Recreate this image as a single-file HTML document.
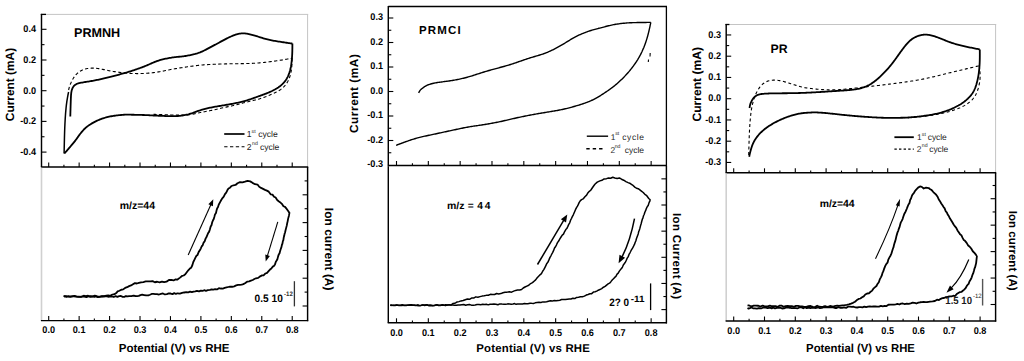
<!DOCTYPE html>
<html><head><meta charset="utf-8"><style>
html,body{margin:0;padding:0;background:#fff;}
svg{display:block;font-family:"Liberation Sans", sans-serif;} text{text-rendering:geometricPrecision;}
</style></head><body>
<svg width="1024" height="361" viewBox="0 0 1024 361" font-family='"Liberation Sans", sans-serif'>
<rect width="1024" height="361" fill="#fff"/>
<line x1="41.50" y1="14.40" x2="308.20" y2="14.40" stroke="#c4c4c4" stroke-width="1" />
<line x1="307.60" y1="14.40" x2="307.60" y2="167.00" stroke="#c4c4c4" stroke-width="1" />
<line x1="41.50" y1="13.90" x2="41.50" y2="167.00" stroke="#000" stroke-width="1.45" />
<line x1="40.90" y1="167.00" x2="308.20" y2="167.00" stroke="#000" stroke-width="1.45" />
<line x1="41.50" y1="167.70" x2="41.50" y2="320.60" stroke="#d0d0d0" stroke-width="1.6" />
<line x1="307.60" y1="167.00" x2="307.60" y2="321.20" stroke="#000" stroke-width="1.45" />
<line x1="40.90" y1="320.60" x2="308.20" y2="320.60" stroke="#000" stroke-width="1.45" />
<line x1="40.80" y1="14.40" x2="46.00" y2="14.40" stroke="#000" stroke-width="1.3" />
<line x1="41.50" y1="29.30" x2="46.50" y2="29.30" stroke="#000" stroke-width="1.1" />
<line x1="41.50" y1="60.00" x2="46.50" y2="60.00" stroke="#000" stroke-width="1.1" />
<line x1="41.50" y1="90.70" x2="46.50" y2="90.70" stroke="#000" stroke-width="1.1" />
<line x1="41.50" y1="121.40" x2="46.50" y2="121.40" stroke="#000" stroke-width="1.1" />
<line x1="41.50" y1="152.10" x2="46.50" y2="152.10" stroke="#000" stroke-width="1.1" />
<line x1="41.50" y1="44.65" x2="44.50" y2="44.65" stroke="#000" stroke-width="1.1" />
<line x1="41.50" y1="75.35" x2="44.50" y2="75.35" stroke="#000" stroke-width="1.1" />
<line x1="41.50" y1="106.05" x2="44.50" y2="106.05" stroke="#000" stroke-width="1.1" />
<line x1="41.50" y1="136.75" x2="44.50" y2="136.75" stroke="#000" stroke-width="1.1" />
<text transform="translate(36.00,32.20) scale(0.93,1)" font-size="9.8" font-weight="bold" text-anchor="end">0.4</text>
<text transform="translate(36.00,62.90) scale(0.93,1)" font-size="9.8" font-weight="bold" text-anchor="end">0.2</text>
<text transform="translate(36.00,93.60) scale(0.93,1)" font-size="9.8" font-weight="bold" text-anchor="end">0.0</text>
<text transform="translate(36.00,124.30) scale(0.93,1)" font-size="9.8" font-weight="bold" text-anchor="end">-0.2</text>
<text transform="translate(36.00,155.00) scale(0.93,1)" font-size="9.8" font-weight="bold" text-anchor="end">-0.4</text>
<line x1="48.70" y1="167.00" x2="48.70" y2="162.50" stroke="#000" stroke-width="1.1" />
<line x1="63.92" y1="167.00" x2="63.92" y2="164.80" stroke="#000" stroke-width="1.1" />
<line x1="79.14" y1="167.00" x2="79.14" y2="162.50" stroke="#000" stroke-width="1.1" />
<line x1="94.36" y1="167.00" x2="94.36" y2="164.80" stroke="#000" stroke-width="1.1" />
<line x1="109.58" y1="167.00" x2="109.58" y2="162.50" stroke="#000" stroke-width="1.1" />
<line x1="124.80" y1="167.00" x2="124.80" y2="164.80" stroke="#000" stroke-width="1.1" />
<line x1="140.02" y1="167.00" x2="140.02" y2="162.50" stroke="#000" stroke-width="1.1" />
<line x1="155.24" y1="167.00" x2="155.24" y2="164.80" stroke="#000" stroke-width="1.1" />
<line x1="170.46" y1="167.00" x2="170.46" y2="162.50" stroke="#000" stroke-width="1.1" />
<line x1="185.68" y1="167.00" x2="185.68" y2="164.80" stroke="#000" stroke-width="1.1" />
<line x1="200.90" y1="167.00" x2="200.90" y2="162.50" stroke="#000" stroke-width="1.1" />
<line x1="216.12" y1="167.00" x2="216.12" y2="164.80" stroke="#000" stroke-width="1.1" />
<line x1="231.34" y1="167.00" x2="231.34" y2="162.50" stroke="#000" stroke-width="1.1" />
<line x1="246.56" y1="167.00" x2="246.56" y2="164.80" stroke="#000" stroke-width="1.1" />
<line x1="261.78" y1="167.00" x2="261.78" y2="162.50" stroke="#000" stroke-width="1.1" />
<line x1="277.00" y1="167.00" x2="277.00" y2="164.80" stroke="#000" stroke-width="1.1" />
<line x1="292.22" y1="167.00" x2="292.22" y2="162.50" stroke="#000" stroke-width="1.1" />
<line x1="48.70" y1="320.60" x2="48.70" y2="316.10" stroke="#000" stroke-width="1.1" />
<line x1="63.92" y1="320.60" x2="63.92" y2="318.40" stroke="#000" stroke-width="1.1" />
<line x1="79.14" y1="320.60" x2="79.14" y2="316.10" stroke="#000" stroke-width="1.1" />
<line x1="94.36" y1="320.60" x2="94.36" y2="318.40" stroke="#000" stroke-width="1.1" />
<line x1="109.58" y1="320.60" x2="109.58" y2="316.10" stroke="#000" stroke-width="1.1" />
<line x1="124.80" y1="320.60" x2="124.80" y2="318.40" stroke="#000" stroke-width="1.1" />
<line x1="140.02" y1="320.60" x2="140.02" y2="316.10" stroke="#000" stroke-width="1.1" />
<line x1="155.24" y1="320.60" x2="155.24" y2="318.40" stroke="#000" stroke-width="1.1" />
<line x1="170.46" y1="320.60" x2="170.46" y2="316.10" stroke="#000" stroke-width="1.1" />
<line x1="185.68" y1="320.60" x2="185.68" y2="318.40" stroke="#000" stroke-width="1.1" />
<line x1="200.90" y1="320.60" x2="200.90" y2="316.10" stroke="#000" stroke-width="1.1" />
<line x1="216.12" y1="320.60" x2="216.12" y2="318.40" stroke="#000" stroke-width="1.1" />
<line x1="231.34" y1="320.60" x2="231.34" y2="316.10" stroke="#000" stroke-width="1.1" />
<line x1="246.56" y1="320.60" x2="246.56" y2="318.40" stroke="#000" stroke-width="1.1" />
<line x1="261.78" y1="320.60" x2="261.78" y2="316.10" stroke="#000" stroke-width="1.1" />
<line x1="277.00" y1="320.60" x2="277.00" y2="318.40" stroke="#000" stroke-width="1.1" />
<line x1="292.22" y1="320.60" x2="292.22" y2="316.10" stroke="#000" stroke-width="1.1" />
<text transform="translate(48.70,332.80) scale(0.93,1)" font-size="9.8" font-weight="bold" text-anchor="middle">0.0</text>
<text transform="translate(79.14,332.80) scale(0.93,1)" font-size="9.8" font-weight="bold" text-anchor="middle">0.1</text>
<text transform="translate(109.58,332.80) scale(0.93,1)" font-size="9.8" font-weight="bold" text-anchor="middle">0.2</text>
<text transform="translate(140.02,332.80) scale(0.93,1)" font-size="9.8" font-weight="bold" text-anchor="middle">0.3</text>
<text transform="translate(170.46,332.80) scale(0.93,1)" font-size="9.8" font-weight="bold" text-anchor="middle">0.4</text>
<text transform="translate(200.90,332.80) scale(0.93,1)" font-size="9.8" font-weight="bold" text-anchor="middle">0.5</text>
<text transform="translate(231.34,332.80) scale(0.93,1)" font-size="9.8" font-weight="bold" text-anchor="middle">0.6</text>
<text transform="translate(261.78,332.80) scale(0.93,1)" font-size="9.8" font-weight="bold" text-anchor="middle">0.7</text>
<text transform="translate(292.22,332.80) scale(0.93,1)" font-size="9.8" font-weight="bold" text-anchor="middle">0.8</text>
<line x1="307.60" y1="306.00" x2="302.60" y2="306.00" stroke="#000" stroke-width="1.1" />
<line x1="307.60" y1="278.20" x2="302.60" y2="278.20" stroke="#000" stroke-width="1.1" />
<line x1="307.60" y1="250.40" x2="302.60" y2="250.40" stroke="#000" stroke-width="1.1" />
<line x1="307.60" y1="222.60" x2="302.60" y2="222.60" stroke="#000" stroke-width="1.1" />
<line x1="307.60" y1="194.80" x2="302.60" y2="194.80" stroke="#000" stroke-width="1.1" />
<line x1="307.60" y1="292.10" x2="304.60" y2="292.10" stroke="#000" stroke-width="1.1" />
<line x1="307.60" y1="264.30" x2="304.60" y2="264.30" stroke="#000" stroke-width="1.1" />
<line x1="307.60" y1="236.50" x2="304.60" y2="236.50" stroke="#000" stroke-width="1.1" />
<line x1="307.60" y1="208.70" x2="304.60" y2="208.70" stroke="#000" stroke-width="1.1" />
<line x1="307.60" y1="180.90" x2="304.60" y2="180.90" stroke="#000" stroke-width="1.1" />
<text x="74.00" y="37.10" font-size="12.6" font-weight="bold" text-anchor="start" >PRMNH</text>
<text transform="translate(14.3,84.5) rotate(-90)" font-size="11.9" font-weight="bold" text-anchor="middle">Current (mA)</text>
<text transform="translate(325.2,249.2) rotate(90)" font-size="12.0" font-weight="bold" text-anchor="middle">Ion current (A)</text>
<text x="118.70" y="352.30" font-size="11.6" font-weight="bold" text-anchor="start" textLength="110.8" lengthAdjust="spacingAndGlyphs">Potential (V) vs RHE</text>
<text x="119.70" y="208.60" font-size="10.5" font-weight="bold" text-anchor="start" >m/z=44</text>
<path d="M70.30,116.50 L70.32,115.86 L70.34,115.04 L70.37,114.09 L70.39,113.16 L70.42,112.14 L70.45,111.04 L70.49,109.90 L70.52,108.72 L70.56,107.52 L70.59,106.33 L70.63,105.16 L70.66,104.03 L70.70,102.96 L70.74,101.85 L70.78,100.74 L70.82,99.64 L70.86,98.57 L70.91,97.51 L70.96,96.47 L71.01,95.44 L71.08,94.50 L71.17,93.54 L71.29,92.57 L71.45,91.60 L71.67,90.62 L71.96,89.62 L72.32,88.61 L72.78,87.61 L73.35,86.71 L73.98,85.92 L74.68,85.23 L75.44,84.65 L76.26,84.16 L77.17,83.75 L78.19,83.42 L79.17,83.15 L80.17,82.92 L81.19,82.71 L82.22,82.51 L83.25,82.32 L84.26,82.15 L85.21,82.00 L86.21,81.85 L87.24,81.69 L88.31,81.53 L89.40,81.36 L90.51,81.18 L91.63,80.99 L92.73,80.80 L93.81,80.61 L94.87,80.41 L95.91,80.20 L96.93,79.99 L97.93,79.78 L98.92,79.56 L99.91,79.34 L100.92,79.11 L101.93,78.87 L102.96,78.63 L103.99,78.38 L105.04,78.13 L106.09,77.87 L107.16,77.61 L108.21,77.35 L109.25,77.09 L110.27,76.83 L111.29,76.57 L112.29,76.32 L113.28,76.07 L114.26,75.82 L115.25,75.56 L116.25,75.30 L117.26,75.04 L118.27,74.78 L119.28,74.51 L120.30,74.24 L121.31,73.96 L122.32,73.69 L123.32,73.41 L124.32,73.13 L125.30,72.85 L126.29,72.56 L127.28,72.27 L128.27,71.97 L129.27,71.66 L130.27,71.35 L131.28,71.02 L132.30,70.70 L133.31,70.37 L134.31,70.03 L135.30,69.70 L136.28,69.36 L137.26,69.02 L138.23,68.68 L139.19,68.33 L140.14,67.99 L141.09,67.64 L142.05,67.29 L143.01,66.92 L143.99,66.54 L144.97,66.15 L145.96,65.74 L146.95,65.32 L147.96,64.89 L148.95,64.45 L149.93,64.01 L150.90,63.57 L151.87,63.14 L152.84,62.72 L153.81,62.31 L154.78,61.92 L155.75,61.54 L156.73,61.18 L157.71,60.84 L158.70,60.52 L159.68,60.23 L160.68,59.94 L161.67,59.68 L162.66,59.43 L163.66,59.19 L164.65,58.96 L165.64,58.74 L166.64,58.54 L167.63,58.34 L168.62,58.15 L169.63,57.96 L170.64,57.78 L171.66,57.62 L172.69,57.46 L173.74,57.32 L174.79,57.19 L175.85,57.07 L176.91,56.96 L177.97,56.86 L179.03,56.76 L180.09,56.65 L181.15,56.54 L182.21,56.42 L183.26,56.29 L184.31,56.14 L185.34,55.99 L186.36,55.82 L187.37,55.64 L188.38,55.46 L189.37,55.27 L190.36,55.08 L191.36,54.87 L192.35,54.65 L193.34,54.42 L194.34,54.18 L195.33,53.92 L196.32,53.63 L197.31,53.33 L198.27,53.01 L199.23,52.67 L200.16,52.32 L201.08,51.94 L201.98,51.55 L202.87,51.15 L203.75,50.73 L204.63,50.29 L205.52,49.84 L206.41,49.37 L207.31,48.89 L208.23,48.40 L209.17,47.89 L210.13,47.38 L211.07,46.87 L212.01,46.38 L212.94,45.88 L213.87,45.40 L214.78,44.91 L215.69,44.43 L216.58,43.95 L217.50,43.45 L218.44,42.95 L219.38,42.43 L220.34,41.91 L221.30,41.39 L222.26,40.87 L223.22,40.36 L224.17,39.85 L225.11,39.35 L226.03,38.87 L226.94,38.41 L227.82,37.97 L228.67,37.55 L229.57,37.12 L230.50,36.70 L231.47,36.28 L232.46,35.86 L233.46,35.46 L234.49,35.07 L235.54,34.70 L236.54,34.38 L237.51,34.11 L238.45,33.88 L239.39,33.69 L240.32,33.55 L241.26,33.45 L242.21,33.39 L243.15,33.37 L244.09,33.40 L245.04,33.47 L245.98,33.58 L246.92,33.73 L247.89,33.92 L248.88,34.14 L249.91,34.38 L250.93,34.63 L251.93,34.88 L252.92,35.14 L253.89,35.40 L254.84,35.66 L255.75,35.92 L256.63,36.18 L257.53,36.46 L258.44,36.75 L259.38,37.04 L260.33,37.35 L261.30,37.65 L262.30,37.96 L263.31,38.27 L264.35,38.58 L265.41,38.88 L266.48,39.17 L267.55,39.44 L268.61,39.70 L269.66,39.94 L270.72,40.16 L271.78,40.38 L272.85,40.58 L273.93,40.78 L275.04,40.97 L276.19,41.16 L277.36,41.35 L278.54,41.54 L279.73,41.73 L280.92,41.91 L282.10,42.09 L283.27,42.26 L284.41,42.43 L285.51,42.59 L286.57,42.75 L287.59,42.89 L288.55,43.03 L289.44,43.16 L290.26,43.28 L291.08,43.40 L291.80,43.51 L292.40,43.60" fill="none" stroke="#000" stroke-width="1.8" stroke-linejoin="round" stroke-linecap="butt"/>
<path d="M292.40,43.60 L292.40,44.32 L292.39,45.28 L292.38,46.38 L292.37,47.43 L292.36,48.53 L292.34,49.66 L292.32,50.78 L292.29,51.88 L292.25,52.95 L292.21,53.99 L292.16,55.00 L292.10,56.00 L292.04,56.99 L291.96,58.00 L291.88,59.01 L291.78,60.04 L291.67,61.08 L291.56,62.14 L291.43,63.20 L291.29,64.27 L291.13,65.34 L290.96,66.41 L290.75,67.49 L290.53,68.58 L290.27,69.66 L289.99,70.74 L289.67,71.82 L289.33,72.89 L288.96,73.93 L288.57,74.95 L288.15,75.93 L287.71,76.87 L287.24,77.79 L286.74,78.67 L286.21,79.53 L285.65,80.36 L285.06,81.17 L284.44,81.95 L283.79,82.71 L283.09,83.46 L282.36,84.18 L281.57,84.90 L280.78,85.57 L279.96,86.22 L279.13,86.83 L278.29,87.42 L277.44,87.98 L276.58,88.52 L275.73,89.02 L274.84,89.53 L273.92,90.03 L272.97,90.53 L272.02,91.01 L271.05,91.47 L270.08,91.92 L269.10,92.35 L268.12,92.77 L267.13,93.17 L266.14,93.56 L265.12,93.94 L264.10,94.32 L263.07,94.69 L262.04,95.06 L261.02,95.43 L260.00,95.79 L258.98,96.15 L257.98,96.52 L256.99,96.88 L256.00,97.24 L255.02,97.60 L254.04,97.96 L253.07,98.31 L252.10,98.66 L251.13,99.00 L250.16,99.33 L249.18,99.65 L248.21,99.96 L247.24,100.26 L246.27,100.55 L245.29,100.83 L244.32,101.09 L243.35,101.35 L242.38,101.60 L241.40,101.84 L240.42,102.08 L239.43,102.31 L238.45,102.54 L237.45,102.77 L236.45,102.98 L235.43,103.20 L234.40,103.41 L233.36,103.62 L232.31,103.82 L231.25,104.01 L230.19,104.21 L229.12,104.39 L228.06,104.57 L227.00,104.76 L225.93,104.94 L224.86,105.12 L223.80,105.30 L222.73,105.47 L221.66,105.65 L220.58,105.82 L219.51,106.00 L218.44,106.17 L217.36,106.34 L216.29,106.52 L215.22,106.71 L214.16,106.90 L213.11,107.10 L212.08,107.30 L211.06,107.51 L210.06,107.73 L209.07,107.95 L208.09,108.17 L207.12,108.40 L206.14,108.63 L205.17,108.88 L204.20,109.13 L203.22,109.39 L202.25,109.66 L201.27,109.94 L200.30,110.24 L199.32,110.55 L198.35,110.88 L197.38,111.22 L196.40,111.58 L195.43,111.94 L194.45,112.31 L193.48,112.67 L192.50,113.03 L191.53,113.36 L190.54,113.68 L189.54,113.98 L188.53,114.26 L187.50,114.52 L186.46,114.75 L185.42,114.97 L184.35,115.17 L183.29,115.35 L182.23,115.51 L181.17,115.65 L180.10,115.78 L179.03,115.89 L177.96,115.98 L176.89,116.06 L175.82,116.12 L174.74,116.16 L173.66,116.18 L172.57,116.19 L171.49,116.18 L170.40,116.16 L169.32,116.14 L168.24,116.11 L167.16,116.07 L166.08,116.04 L165.00,116.00 L163.92,115.96 L162.84,115.92 L161.76,115.88 L160.68,115.84 L159.61,115.80 L158.54,115.75 L157.49,115.70 L156.45,115.65 L155.40,115.60 L154.36,115.55 L153.32,115.49 L152.30,115.44 L151.28,115.38 L150.26,115.33 L149.22,115.27 L148.19,115.21 L147.13,115.16 L146.08,115.11 L145.02,115.06 L143.95,115.02 L142.85,114.98 L141.74,114.95 L140.61,114.92 L139.50,114.89 L138.35,114.86 L137.19,114.84 L136.04,114.82 L134.91,114.79 L133.82,114.77 L132.79,114.75 L131.72,114.73 L130.72,114.69 L129.79,114.65 L128.77,114.62 L127.79,114.61 L126.82,114.62 L125.83,114.63 L124.93,114.67 L123.97,114.74 L122.95,114.82 L122.02,114.91 L121.02,115.00 L119.98,115.10 L118.90,115.21 L117.79,115.33 L116.68,115.46 L115.57,115.60 L114.47,115.75 L113.39,115.90 L112.32,116.07 L111.26,116.26 L110.20,116.46 L109.15,116.68 L108.10,116.92 L107.05,117.18 L106.00,117.46 L104.96,117.75 L103.95,118.06 L102.95,118.38 L101.97,118.72 L100.99,119.07 L100.02,119.45 L99.06,119.84 L98.10,120.25 L97.14,120.68 L96.18,121.13 L95.22,121.60 L94.27,122.09 L93.33,122.60 L92.41,123.12 L91.51,123.65 L90.63,124.18 L89.79,124.71 L88.94,125.28 L88.10,125.87 L87.27,126.48 L86.46,127.12 L85.67,127.79 L84.90,128.50 L84.13,129.24 L83.40,130.01 L82.71,130.78 L82.03,131.56 L81.37,132.37 L80.71,133.20 L80.06,134.04 L79.42,134.90 L78.79,135.76 L78.17,136.64 L77.55,137.51 L76.95,138.36 L76.33,139.21 L75.72,140.05 L75.11,140.86 L74.50,141.64 L73.90,142.40 L73.28,143.16 L72.64,143.93 L72.00,144.68 L71.35,145.44 L70.67,146.23 L69.96,147.06 L69.22,147.93 L68.46,148.81 L67.70,149.69 L66.96,150.55 L66.26,151.36 L65.52,152.20 L64.88,152.94 L64.40,153.50" fill="none" stroke="#000" stroke-width="1.8" stroke-linejoin="round" stroke-linecap="butt"/>
<path d="M64.10,153.50 L64.11,152.91 L64.13,152.21 L64.15,151.41 L64.16,150.52 L64.18,149.56 L64.21,148.54 L64.23,147.59 L64.25,146.59 L64.27,145.55 L64.29,144.47 L64.32,143.36 L64.34,142.23 L64.37,141.09 L64.40,139.94 L64.42,138.78 L64.45,137.63 L64.48,136.50 L64.51,135.38 L64.54,134.26 L64.58,133.14 L64.61,132.03 L64.65,130.92 L64.69,129.81 L64.73,128.71 L64.77,127.62 L64.82,126.54 L64.87,125.47 L64.91,124.40 L64.97,123.33 L65.02,122.27 L65.08,121.20 L65.14,120.16 L65.19,119.14 L65.25,118.15 L65.32,117.17 L65.38,116.18 L65.45,115.18 L65.52,114.17 L65.60,113.15 L65.68,112.13 L65.77,111.11 L65.86,110.09 L65.96,109.06 L66.06,108.04 L66.16,107.01 L66.27,105.98 L66.39,104.93 L66.53,103.85 L66.67,102.78 L66.82,101.72 L66.98,100.67 L67.15,99.63 L67.32,98.62 L67.49,97.64 L67.66,96.63 L67.85,95.58 L68.06,94.49 L68.27,93.50 L68.46,92.65 L68.60,92.00" fill="none" stroke="#000" stroke-width="1.5" stroke-linejoin="round" stroke-linecap="butt"/>
<path d="M68.60,90.00 L68.78,89.25 L69.03,88.25 L69.31,87.18 L69.63,86.13 L70.00,85.11 L70.45,84.09 L70.85,83.11 L71.27,82.12 L71.74,81.14 L72.23,80.17 L72.75,79.23 L73.31,78.31 L73.90,77.41 L74.52,76.53 L75.17,75.69 L75.86,74.87 L76.57,74.10 L77.30,73.40 L78.07,72.72 L78.88,72.07 L79.72,71.48 L80.59,70.93 L81.49,70.44 L82.41,70.00 L83.35,69.62 L84.32,69.28 L85.30,69.00 L86.30,68.76 L87.32,68.56 L88.34,68.40 L89.39,68.28 L90.46,68.20 L91.51,68.15 L92.56,68.13 L93.60,68.14 L94.63,68.18 L95.66,68.25 L96.68,68.35 L97.70,68.47 L98.73,68.62 L99.76,68.79 L100.80,68.98 L101.83,69.19 L102.87,69.40 L103.89,69.61 L104.92,69.83 L105.95,70.05 L106.99,70.26 L108.04,70.47 L109.09,70.68 L110.15,70.88 L111.21,71.07 L112.28,71.26 L113.34,71.44 L114.41,71.60 L115.48,71.77 L116.53,71.92 L117.58,72.07 L118.65,72.21 L119.71,72.35 L120.78,72.49 L121.85,72.61 L122.92,72.74 L124.00,72.85 L125.07,72.96 L126.15,73.06 L127.22,73.16 L128.29,73.24 L129.36,73.31 L130.43,73.38 L131.49,73.43 L132.55,73.48 L133.60,73.52 L134.66,73.55 L135.71,73.57 L136.76,73.58 L137.80,73.58 L138.84,73.58 L139.88,73.57 L140.92,73.55 L141.96,73.52 L143.01,73.48 L144.05,73.43 L145.10,73.38 L146.14,73.32 L147.19,73.25 L148.24,73.17 L149.29,73.08 L150.34,72.98 L151.41,72.87 L152.46,72.75 L153.50,72.63 L154.53,72.50 L155.56,72.35 L156.59,72.20 L157.61,72.04 L158.63,71.88 L159.64,71.70 L160.65,71.52 L161.66,71.33 L162.66,71.14 L163.66,70.94 L164.65,70.74 L165.64,70.53 L166.64,70.33 L167.65,70.12 L168.66,69.92 L169.67,69.72 L170.69,69.52 L171.71,69.33 L172.74,69.14 L173.78,68.95 L174.82,68.77 L175.86,68.59 L176.91,68.42 L177.97,68.25 L179.03,68.08 L180.09,67.91 L181.14,67.75 L182.18,67.59 L183.22,67.43 L184.26,67.27 L185.29,67.12 L186.31,66.96 L187.33,66.81 L188.34,66.66 L189.35,66.52 L190.36,66.37 L191.36,66.23 L192.35,66.09 L193.34,65.96 L194.34,65.83 L195.34,65.70 L196.35,65.58 L197.35,65.46 L198.36,65.35 L199.38,65.24 L200.39,65.14 L201.41,65.05 L202.43,64.96 L203.46,64.88 L204.50,64.80 L205.54,64.73 L206.61,64.66 L207.66,64.59 L208.71,64.53 L209.75,64.48 L210.78,64.42 L211.81,64.37 L212.83,64.33 L213.85,64.28 L214.87,64.24 L215.88,64.20 L216.90,64.17 L217.91,64.13 L218.92,64.10 L219.93,64.07 L220.95,64.04 L222.01,64.01 L223.09,63.98 L224.16,63.95 L225.23,63.92 L226.29,63.89 L227.35,63.87 L228.41,63.84 L229.46,63.82 L230.51,63.80 L231.56,63.78 L232.60,63.76 L233.63,63.74 L234.65,63.72 L235.66,63.70 L236.65,63.69 L237.65,63.68 L238.67,63.66 L239.71,63.65 L240.75,63.63 L241.80,63.61 L242.86,63.60 L243.91,63.58 L244.97,63.56 L246.02,63.54 L247.07,63.51 L248.11,63.49 L249.13,63.46 L250.15,63.43 L251.17,63.39 L252.19,63.35 L253.22,63.31 L254.25,63.25 L255.29,63.19 L256.32,63.13 L257.36,63.06 L258.40,62.98 L259.43,62.90 L260.47,62.81 L261.51,62.71 L262.56,62.61 L263.61,62.50 L264.64,62.39 L265.66,62.28 L266.67,62.16 L267.66,62.03 L268.65,61.91 L269.62,61.78 L270.61,61.65 L271.60,61.52 L272.60,61.38 L273.62,61.24 L274.65,61.09 L275.70,60.94 L276.76,60.78 L277.84,60.62 L278.93,60.45 L280.03,60.28 L281.14,60.11 L282.25,59.93 L283.36,59.76 L284.44,59.58 L285.50,59.40 L286.52,59.23 L287.49,59.07 L288.54,58.89 L289.53,58.72 L290.45,58.56 L291.28,58.42 L292.01,58.30 L292.60,58.20" fill="none" stroke="#000" stroke-width="1.1" stroke-linejoin="round" stroke-linecap="butt" stroke-dasharray="3.2,2.4"/>
<path d="M292.00,58.40 L292.02,59.14 L292.05,60.12 L292.07,61.25 L292.04,62.41 L291.99,63.49 L291.91,64.56 L291.85,65.60 L291.78,66.68 L291.68,67.76 L291.56,68.84 L291.42,69.91 L291.26,70.95 L291.07,71.98 L290.85,72.98 L290.61,74.00 L290.34,75.01 L290.04,76.02 L289.71,77.01 L289.36,78.00 L288.98,78.96 L288.57,79.91 L288.11,80.85 L287.63,81.77 L287.11,82.66 L286.55,83.53 L285.96,84.37 L285.33,85.18 L284.67,85.96 L283.97,86.70 L283.25,87.41 L282.49,88.08 L281.69,88.73 L280.85,89.36 L279.99,89.95 L279.09,90.51 L278.18,91.06 L277.25,91.57 L276.31,92.08 L275.36,92.56 L274.40,93.03 L273.42,93.49 L272.44,93.94 L271.45,94.37 L270.46,94.80 L269.47,95.22 L268.48,95.64 L267.48,96.04 L266.48,96.43 L265.48,96.82 L264.46,97.19 L263.44,97.56 L262.41,97.92 L261.37,98.26 L260.34,98.60 L259.31,98.92 L258.27,99.22 L257.23,99.52 L256.19,99.80 L255.15,100.07 L254.11,100.33 L253.07,100.58 L252.04,100.82 L251.01,101.06 L249.98,101.29 L248.96,101.53 L247.94,101.77 L246.92,102.02 L245.90,102.27 L244.88,102.53 L243.86,102.80 L242.83,103.08 L241.79,103.37 L240.76,103.65 L239.73,103.94 L238.70,104.22 L237.66,104.50 L236.63,104.78 L235.58,105.04 L234.53,105.30 L233.48,105.54 L232.41,105.78 L231.34,106.01 L230.27,106.24 L229.21,106.45 L228.15,106.66 L227.10,106.88 L226.04,107.10 L224.99,107.32 L223.94,107.55 L222.89,107.78 L221.85,108.02 L220.82,108.26 L219.80,108.50 L218.80,108.74 L217.81,108.98 L216.81,109.22 L215.81,109.46 L214.79,109.69 L213.78,109.92 L212.76,110.13 L211.75,110.34 L210.74,110.54 L209.73,110.73 L208.73,110.91 L207.71,111.09 L206.67,111.28 L205.62,111.48 L204.55,111.68 L203.49,111.88 L202.44,112.10 L201.39,112.31 L200.33,112.53 L199.27,112.76 L198.20,113.00 L197.14,113.23 L196.06,113.47 L194.98,113.70 L193.91,113.91 L192.87,114.12 L191.84,114.30 L190.83,114.46 L189.82,114.61 L188.81,114.73 L187.78,114.84 L186.77,114.93 L185.76,115.00 L184.76,115.06 L183.75,115.10 L182.74,115.12 L181.73,115.13 L180.70,115.14 L179.65,115.13 L178.59,115.12 L177.52,115.10 L176.45,115.08 L175.38,115.06 L174.32,115.03 L173.25,115.00 L172.17,114.97 L171.09,114.94 L170.01,114.91 L168.95,114.87 L167.89,114.84 L166.86,114.81 L165.85,114.78 L164.81,114.75 L163.76,114.71 L162.69,114.68 L161.62,114.64 L160.56,114.60 L159.53,114.56 L158.50,114.53 L157.45,114.49 L156.35,114.44 L155.17,114.39 L154.15,114.34 L153.40,114.30" fill="none" stroke="#000" stroke-width="1.1" stroke-linejoin="round" stroke-linecap="butt" stroke-dasharray="3.2,2.4"/>
<line x1="224.20" y1="134.00" x2="244.50" y2="134.00" stroke="#000" stroke-width="1.7" />
<line x1="224.20" y1="146.80" x2="244.50" y2="146.80" stroke="#000" stroke-width="1.1" stroke-dasharray="3.3,2.5"/>
<text x="246.8" y="137.4" font-size="8.6" fill="#222">1</text>
<text x="251.6" y="132.6" font-size="5.2" fill="#222">st</text>
<text x="258.2" y="137.4" font-size="8.6" fill="#222" textLength="19.6" lengthAdjust="spacing">cycle</text>
<text x="246.8" y="149.9" font-size="8.6" fill="#222">2</text>
<text x="252.0" y="145.1" font-size="5.2" fill="#222">nd</text>
<text x="259.9" y="149.9" font-size="8.6" fill="#222" textLength="19.5" lengthAdjust="spacing">cycle</text>
<path d="M63.70,296.23 L64.87,296.39 L66.34,296.94 L68.07,296.26 L70.01,296.33 L72.11,296.46 L74.35,295.87 L76.67,296.36 L79.03,296.55 L81.39,296.79 L83.71,295.74 L85.95,296.04 L88.06,295.71 L90.00,296.76 L92.41,296.57 L94.84,295.58 L97.26,296.99 L99.64,296.96 L101.96,296.48 L104.18,296.38 L106.28,295.62 L108.24,295.29 L110.02,295.88 L111.60,294.94 L114.48,294.22 L116.24,293.06 L117.64,291.38 L119.40,290.75 L121.22,289.75 L123.14,289.39 L125.13,287.95 L127.13,287.20 L129.10,286.10 L131.04,285.46 L132.98,284.26 L134.93,283.14 L136.87,283.50 L138.80,282.94 L141.11,282.33 L143.36,282.02 L145.72,281.43 L148.40,281.29 L150.41,281.39 L152.57,281.13 L154.83,282.25 L157.18,281.75 L159.58,282.38 L162.00,281.53 L164.18,282.14 L166.51,281.66 L168.91,280.02 L171.30,279.90 L173.58,280.47 L175.67,279.30 L177.50,279.52 L180.04,277.61 L182.01,275.95 L183.67,275.50 L185.30,274.32 L186.95,272.00 L188.48,270.02 L189.87,268.61 L191.10,267.80 L192.33,265.25 L193.30,262.02 L194.50,259.62 L195.43,257.67 L196.45,255.79 L197.56,254.94 L198.74,251.88 L200.00,250.09 L200.84,248.32 L201.73,246.25 L202.67,245.31 L203.62,242.57 L204.60,241.43 L205.58,238.64 L206.55,237.03 L207.50,234.57 L208.27,232.81 L209.06,231.87 L209.87,229.51 L210.68,226.59 L211.49,225.26 L212.27,222.09 L213.03,220.26 L213.74,218.97 L214.40,216.83 L215.00,214.40 L215.98,213.03 L216.75,209.67 L217.40,207.89 L218.01,207.01 L218.70,204.74 L219.96,202.32 L221.24,200.02 L222.50,198.09 L223.74,196.72 L224.96,194.13 L226.20,192.65 L227.32,190.34 L228.46,188.57 L230.00,187.69 L231.61,185.98 L233.52,185.27 L235.54,184.97 L237.50,183.22 L240.00,182.15 L242.50,182.33 L245.00,181.68 L247.59,180.93 L250.19,181.37 L252.50,182.86 L255.00,184.18 L257.50,184.54 L259.20,186.75 L261.09,187.92 L263.07,188.85 L265.00,189.88 L266.88,190.60 L268.75,191.65 L270.62,194.27 L272.50,194.61 L274.04,196.69 L275.62,197.58 L277.18,200.05 L278.66,201.26 L280.00,202.19 L281.87,203.87 L283.46,206.26 L285.00,206.85 L286.70,208.94 L288.35,211.29 L289.50,213.03" fill="none" stroke="#000" stroke-width="1.8" stroke-linejoin="round"/>
<path d="M289.50,212.47 L289.27,213.92 L288.94,215.67 L288.52,217.17 L288.00,219.41 L287.65,221.37 L287.25,222.94 L286.82,225.38 L286.36,227.11 L285.90,228.90 L285.44,230.74 L285.00,232.69 L284.57,233.88 L284.15,236.07 L283.72,237.58 L283.30,240.30 L282.87,241.08 L282.44,243.73 L282.00,244.49 L281.38,247.40 L280.76,249.04 L280.13,251.09 L279.48,253.53 L278.80,254.42 L278.10,256.35 L277.38,259.23 L276.64,260.54 L275.85,261.73 L275.00,264.38 L273.86,266.10 L272.65,266.67 L271.36,268.50 L270.00,269.56 L268.57,271.15 L267.08,272.82 L265.49,273.49 L263.80,275.24 L262.04,275.40 L260.20,276.33 L258.21,277.88 L256.00,278.28 L254.40,279.01 L252.72,279.98 L250.95,280.63 L249.08,281.33 L247.10,281.69 L245.00,283.27 L243.35,284.10 L241.65,284.64 L239.89,284.78 L238.06,284.93 L236.17,285.44 L234.20,286.31 L232.14,286.76 L230.00,286.54 L228.34,287.00 L226.57,287.46 L224.72,287.95 L222.81,288.60 L220.86,288.52 L218.91,288.23 L216.98,289.46 L215.09,289.24 L213.28,289.59 L211.58,289.46 L210.00,289.91 L207.82,290.15 L205.94,290.83 L204.23,290.21 L202.59,290.91 L200.90,290.62 L199.04,291.42 L196.90,290.84 L195.26,291.30 L193.58,291.57 L191.85,292.11 L190.06,291.61 L188.20,292.30 L186.26,292.20 L184.23,292.49 L182.10,292.92 L179.86,293.68 L177.50,293.28 L175.93,293.95 L174.26,293.10 L172.50,294.10 L170.68,293.52 L168.79,293.40 L166.87,294.16 L164.91,294.44 L162.94,293.43 L160.98,293.83 L159.02,294.51 L157.10,294.08 L155.21,294.04 L153.39,293.85 L151.63,293.97 L149.97,294.75 L148.40,295.28 L146.12,295.45 L144.07,295.02 L142.20,294.61 L140.44,295.14 L138.75,295.86 L137.06,296.08 L135.30,296.00 L133.43,295.65 L131.38,296.13 L129.10,296.17 L127.56,296.41 L125.98,296.01 L124.35,296.87 L122.68,296.84 L120.97,295.99 L119.22,296.17 L117.43,296.89 L115.61,296.19 L113.76,297.00 L111.87,296.50 L109.95,296.72 L108.01,296.73 L106.04,296.15 L104.05,296.24 L102.03,296.20 L100.00,296.72 L98.30,296.73 L96.50,296.06 L94.60,296.96 L92.62,296.39 L90.58,296.17 L88.50,296.39 L86.38,297.03 L84.26,296.52 L82.13,296.58 L80.03,296.92 L77.97,296.96 L75.95,296.70 L74.01,296.28 L72.15,296.47 L70.39,296.83 L68.75,296.68 L67.25,296.42 L65.89,296.13 L64.70,296.15 L63.70,296.58" fill="none" stroke="#000" stroke-width="1.8" stroke-linejoin="round"/>
<line x1="188.20" y1="255.10" x2="211.04" y2="204.32" stroke="#000" stroke-width="1.1" />
<polygon points="213.30,199.30 212.91,206.25 208.35,204.20" fill="#000"/>
<line x1="277.80" y1="221.90" x2="267.31" y2="256.14" stroke="#000" stroke-width="1.1" />
<polygon points="265.70,261.40 265.31,254.48 269.90,255.89" fill="#000"/>
<line x1="294.40" y1="281.20" x2="294.40" y2="306.40" stroke="#333" stroke-width="1.3" />
<text x="254.6" y="301.8" font-size="10.8" font-weight="bold" textLength="28.2" lengthAdjust="spacingAndGlyphs">0.5 10</text>
<text x="284" y="295.9" font-size="6.4" font-weight="bold" fill="#333" textLength="8.8" lengthAdjust="spacingAndGlyphs">-12</text>
<line x1="388.30" y1="6.50" x2="667.00" y2="6.50" stroke="#000" stroke-width="1.3" />
<line x1="666.40" y1="6.50" x2="666.40" y2="165.50" stroke="#000" stroke-width="1.3" />
<line x1="388.30" y1="6.00" x2="388.30" y2="165.50" stroke="#000" stroke-width="1.45" />
<line x1="387.70" y1="165.50" x2="667.00" y2="165.50" stroke="#000" stroke-width="1.45" />
<line x1="388.30" y1="166.20" x2="388.30" y2="322.80" stroke="#000" stroke-width="1.45" />
<line x1="666.40" y1="165.50" x2="666.40" y2="323.40" stroke="#000" stroke-width="1.45" />
<line x1="387.70" y1="322.80" x2="667.00" y2="322.80" stroke="#000" stroke-width="1.45" />
<line x1="388.30" y1="18.00" x2="393.30" y2="18.00" stroke="#000" stroke-width="1.1" />
<line x1="388.30" y1="42.50" x2="393.30" y2="42.50" stroke="#000" stroke-width="1.1" />
<line x1="388.30" y1="67.00" x2="393.30" y2="67.00" stroke="#000" stroke-width="1.1" />
<line x1="388.30" y1="91.50" x2="393.30" y2="91.50" stroke="#000" stroke-width="1.1" />
<line x1="388.30" y1="116.00" x2="393.30" y2="116.00" stroke="#000" stroke-width="1.1" />
<line x1="388.30" y1="140.50" x2="393.30" y2="140.50" stroke="#000" stroke-width="1.1" />
<line x1="388.30" y1="30.25" x2="391.30" y2="30.25" stroke="#000" stroke-width="1.1" />
<line x1="388.30" y1="54.75" x2="391.30" y2="54.75" stroke="#000" stroke-width="1.1" />
<line x1="388.30" y1="79.25" x2="391.30" y2="79.25" stroke="#000" stroke-width="1.1" />
<line x1="388.30" y1="103.75" x2="391.30" y2="103.75" stroke="#000" stroke-width="1.1" />
<line x1="388.30" y1="128.25" x2="391.30" y2="128.25" stroke="#000" stroke-width="1.1" />
<line x1="388.30" y1="152.75" x2="391.30" y2="152.75" stroke="#000" stroke-width="1.1" />
<text transform="translate(383.00,20.20) scale(0.93,1)" font-size="9.8" font-weight="bold" text-anchor="end">0.3</text>
<text transform="translate(383.00,44.70) scale(0.93,1)" font-size="9.8" font-weight="bold" text-anchor="end">0.2</text>
<text transform="translate(383.00,69.20) scale(0.93,1)" font-size="9.8" font-weight="bold" text-anchor="end">0.1</text>
<text transform="translate(383.00,93.70) scale(0.93,1)" font-size="9.8" font-weight="bold" text-anchor="end">0.0</text>
<text transform="translate(383.00,118.20) scale(0.93,1)" font-size="9.8" font-weight="bold" text-anchor="end">-0.1</text>
<text transform="translate(383.00,142.70) scale(0.93,1)" font-size="9.8" font-weight="bold" text-anchor="end">-0.2</text>
<text transform="translate(383.00,167.20) scale(0.93,1)" font-size="9.8" font-weight="bold" text-anchor="end">-0.3</text>
<line x1="396.50" y1="165.50" x2="396.50" y2="161.00" stroke="#000" stroke-width="1.1" />
<line x1="412.42" y1="165.50" x2="412.42" y2="163.30" stroke="#000" stroke-width="1.1" />
<line x1="428.33" y1="165.50" x2="428.33" y2="161.00" stroke="#000" stroke-width="1.1" />
<line x1="444.25" y1="165.50" x2="444.25" y2="163.30" stroke="#000" stroke-width="1.1" />
<line x1="460.16" y1="165.50" x2="460.16" y2="161.00" stroke="#000" stroke-width="1.1" />
<line x1="476.07" y1="165.50" x2="476.07" y2="163.30" stroke="#000" stroke-width="1.1" />
<line x1="491.99" y1="165.50" x2="491.99" y2="161.00" stroke="#000" stroke-width="1.1" />
<line x1="507.90" y1="165.50" x2="507.90" y2="163.30" stroke="#000" stroke-width="1.1" />
<line x1="523.82" y1="165.50" x2="523.82" y2="161.00" stroke="#000" stroke-width="1.1" />
<line x1="539.74" y1="165.50" x2="539.74" y2="163.30" stroke="#000" stroke-width="1.1" />
<line x1="555.65" y1="165.50" x2="555.65" y2="161.00" stroke="#000" stroke-width="1.1" />
<line x1="571.57" y1="165.50" x2="571.57" y2="163.30" stroke="#000" stroke-width="1.1" />
<line x1="587.48" y1="165.50" x2="587.48" y2="161.00" stroke="#000" stroke-width="1.1" />
<line x1="603.39" y1="165.50" x2="603.39" y2="163.30" stroke="#000" stroke-width="1.1" />
<line x1="619.31" y1="165.50" x2="619.31" y2="161.00" stroke="#000" stroke-width="1.1" />
<line x1="635.23" y1="165.50" x2="635.23" y2="163.30" stroke="#000" stroke-width="1.1" />
<line x1="651.14" y1="165.50" x2="651.14" y2="161.00" stroke="#000" stroke-width="1.1" />
<line x1="396.50" y1="322.80" x2="396.50" y2="318.30" stroke="#000" stroke-width="1.1" />
<line x1="412.42" y1="322.80" x2="412.42" y2="320.60" stroke="#000" stroke-width="1.1" />
<line x1="428.33" y1="322.80" x2="428.33" y2="318.30" stroke="#000" stroke-width="1.1" />
<line x1="444.25" y1="322.80" x2="444.25" y2="320.60" stroke="#000" stroke-width="1.1" />
<line x1="460.16" y1="322.80" x2="460.16" y2="318.30" stroke="#000" stroke-width="1.1" />
<line x1="476.07" y1="322.80" x2="476.07" y2="320.60" stroke="#000" stroke-width="1.1" />
<line x1="491.99" y1="322.80" x2="491.99" y2="318.30" stroke="#000" stroke-width="1.1" />
<line x1="507.90" y1="322.80" x2="507.90" y2="320.60" stroke="#000" stroke-width="1.1" />
<line x1="523.82" y1="322.80" x2="523.82" y2="318.30" stroke="#000" stroke-width="1.1" />
<line x1="539.74" y1="322.80" x2="539.74" y2="320.60" stroke="#000" stroke-width="1.1" />
<line x1="555.65" y1="322.80" x2="555.65" y2="318.30" stroke="#000" stroke-width="1.1" />
<line x1="571.57" y1="322.80" x2="571.57" y2="320.60" stroke="#000" stroke-width="1.1" />
<line x1="587.48" y1="322.80" x2="587.48" y2="318.30" stroke="#000" stroke-width="1.1" />
<line x1="603.39" y1="322.80" x2="603.39" y2="320.60" stroke="#000" stroke-width="1.1" />
<line x1="619.31" y1="322.80" x2="619.31" y2="318.30" stroke="#000" stroke-width="1.1" />
<line x1="635.23" y1="322.80" x2="635.23" y2="320.60" stroke="#000" stroke-width="1.1" />
<line x1="651.14" y1="322.80" x2="651.14" y2="318.30" stroke="#000" stroke-width="1.1" />
<text transform="translate(396.50,335.80) scale(0.93,1)" font-size="9.8" font-weight="bold" text-anchor="middle">0.0</text>
<text transform="translate(428.33,335.80) scale(0.93,1)" font-size="9.8" font-weight="bold" text-anchor="middle">0.1</text>
<text transform="translate(460.16,335.80) scale(0.93,1)" font-size="9.8" font-weight="bold" text-anchor="middle">0.2</text>
<text transform="translate(491.99,335.80) scale(0.93,1)" font-size="9.8" font-weight="bold" text-anchor="middle">0.3</text>
<text transform="translate(523.82,335.80) scale(0.93,1)" font-size="9.8" font-weight="bold" text-anchor="middle">0.4</text>
<text transform="translate(555.65,335.80) scale(0.93,1)" font-size="9.8" font-weight="bold" text-anchor="middle">0.5</text>
<text transform="translate(587.48,335.80) scale(0.93,1)" font-size="9.8" font-weight="bold" text-anchor="middle">0.6</text>
<text transform="translate(619.31,335.80) scale(0.93,1)" font-size="9.8" font-weight="bold" text-anchor="middle">0.7</text>
<text transform="translate(651.14,335.80) scale(0.93,1)" font-size="9.8" font-weight="bold" text-anchor="middle">0.8</text>
<line x1="666.40" y1="309.60" x2="661.40" y2="309.60" stroke="#000" stroke-width="1.1" />
<line x1="666.40" y1="283.45" x2="661.40" y2="283.45" stroke="#000" stroke-width="1.1" />
<line x1="666.40" y1="257.30" x2="661.40" y2="257.30" stroke="#000" stroke-width="1.1" />
<line x1="666.40" y1="231.15" x2="661.40" y2="231.15" stroke="#000" stroke-width="1.1" />
<line x1="666.40" y1="205.00" x2="661.40" y2="205.00" stroke="#000" stroke-width="1.1" />
<line x1="666.40" y1="178.85" x2="661.40" y2="178.85" stroke="#000" stroke-width="1.1" />
<line x1="666.40" y1="296.53" x2="663.40" y2="296.53" stroke="#000" stroke-width="1.1" />
<line x1="666.40" y1="270.38" x2="663.40" y2="270.38" stroke="#000" stroke-width="1.1" />
<line x1="666.40" y1="244.23" x2="663.40" y2="244.23" stroke="#000" stroke-width="1.1" />
<line x1="666.40" y1="218.08" x2="663.40" y2="218.08" stroke="#000" stroke-width="1.1" />
<line x1="666.40" y1="191.93" x2="663.40" y2="191.93" stroke="#000" stroke-width="1.1" />
<text x="419.00" y="33.70" font-size="11.5" font-weight="bold" text-anchor="start" letter-spacing="1.15" >PRMCI</text>
<text transform="translate(358.2,93.3) rotate(-90)" font-size="11.8" font-weight="bold" text-anchor="middle" letter-spacing="0.55">Current (mA)</text>
<text transform="translate(672.5,256.2) rotate(90)" font-size="11.6" font-weight="bold" text-anchor="middle" letter-spacing="0.3">Ion Current (A)</text>
<text x="476.20" y="351.60" font-size="11.4" font-weight="bold" text-anchor="start" textLength="113.7" lengthAdjust="spacing">Potential (V) vs RHE</text>
<text x="447.00" y="208.90" font-size="10.2" font-weight="bold" text-anchor="start" textLength="17.5" lengthAdjust="spacingAndGlyphs">m/z</text>
<text x="467.80" y="208.90" font-size="10.2" font-weight="bold" text-anchor="start" >=</text>
<text x="477.20" y="208.90" font-size="10.2" font-weight="bold" text-anchor="start" >4</text>
<text x="484.80" y="208.90" font-size="10.2" font-weight="bold" text-anchor="start" >4</text>
<path d="M418.60,92.80 L419.04,92.04 L419.62,91.05 L420.27,90.13 L420.99,89.37 L421.78,88.72 L422.63,88.14 L423.42,87.49 L424.27,86.86 L425.13,86.29 L426.00,85.79 L426.87,85.36 L427.75,84.97 L428.67,84.63 L429.66,84.30 L430.65,84.00 L431.62,83.73 L432.58,83.48 L433.55,83.26 L434.50,83.06 L435.46,82.88 L436.41,82.71 L437.38,82.55 L438.40,82.40 L439.45,82.24 L440.52,82.09 L441.58,81.95 L442.59,81.82 L443.64,81.68 L444.71,81.54 L445.79,81.39 L446.88,81.25 L447.98,81.10 L449.06,80.94 L450.15,80.79 L451.23,80.62 L452.32,80.45 L453.39,80.28 L454.45,80.10 L455.50,79.91 L456.53,79.72 L457.55,79.52 L458.56,79.32 L459.56,79.11 L460.55,78.89 L461.53,78.67 L462.51,78.44 L463.48,78.21 L464.43,77.97 L465.39,77.73 L466.34,77.48 L467.30,77.22 L468.25,76.95 L469.22,76.67 L470.18,76.39 L471.15,76.10 L472.12,75.80 L473.10,75.49 L474.08,75.18 L475.08,74.86 L476.08,74.53 L477.08,74.20 L478.08,73.87 L479.08,73.54 L480.08,73.22 L481.07,72.90 L482.06,72.58 L483.06,72.27 L484.06,71.96 L485.06,71.66 L486.06,71.36 L487.06,71.07 L488.06,70.78 L489.06,70.50 L490.05,70.22 L491.05,69.94 L492.05,69.66 L493.04,69.39 L494.03,69.12 L495.01,68.85 L495.99,68.59 L496.96,68.33 L497.92,68.07 L498.87,67.81 L499.83,67.55 L500.78,67.30 L501.75,67.03 L502.73,66.77 L503.73,66.49 L504.71,66.21 L505.69,65.94 L506.66,65.66 L507.64,65.37 L508.62,65.07 L509.61,64.77 L510.60,64.46 L511.60,64.14 L512.61,63.81 L513.61,63.48 L514.62,63.15 L515.61,62.81 L516.59,62.48 L517.59,62.13 L518.60,61.78 L519.62,61.43 L520.64,61.08 L521.67,60.72 L522.69,60.37 L523.70,60.02 L524.70,59.68 L525.71,59.33 L526.72,58.99 L527.74,58.65 L528.76,58.32 L529.78,57.99 L530.79,57.67 L531.80,57.36 L532.81,57.05 L533.81,56.75 L534.81,56.46 L535.82,56.17 L536.83,55.87 L537.84,55.58 L538.84,55.28 L539.84,54.98 L540.82,54.68 L541.78,54.37 L542.74,54.05 L543.69,53.72 L544.63,53.38 L545.57,53.03 L546.50,52.66 L547.43,52.28 L548.36,51.88 L549.28,51.48 L550.19,51.06 L551.10,50.63 L552.00,50.20 L552.90,49.76 L553.80,49.31 L554.70,48.85 L555.60,48.38 L556.50,47.91 L557.40,47.43 L558.30,46.94 L559.20,46.45 L560.10,45.94 L560.99,45.43 L561.89,44.91 L562.79,44.39 L563.68,43.85 L564.58,43.31 L565.47,42.77 L566.37,42.21 L567.26,41.66 L568.15,41.10 L569.05,40.55 L569.94,40.00 L570.83,39.45 L571.73,38.91 L572.64,38.38 L573.56,37.86 L574.48,37.35 L575.42,36.85 L576.36,36.37 L577.32,35.89 L578.28,35.43 L579.25,34.98 L580.23,34.54 L581.22,34.11 L582.21,33.70 L583.20,33.29 L584.18,32.90 L585.14,32.53 L586.09,32.16 L587.07,31.80 L588.06,31.45 L589.04,31.11 L590.02,30.78 L590.99,30.47 L591.96,30.18 L592.93,29.89 L593.91,29.62 L594.89,29.35 L595.86,29.08 L596.84,28.82 L597.83,28.56 L598.83,28.30 L599.79,28.06 L600.75,27.82 L601.70,27.57 L602.67,27.32 L603.64,27.07 L604.62,26.81 L605.60,26.55 L606.57,26.29 L607.55,26.04 L608.54,25.80 L609.54,25.56 L610.55,25.32 L611.57,25.10 L612.60,24.89 L613.64,24.68 L614.68,24.49 L615.73,24.31 L616.79,24.13 L617.84,23.97 L618.91,23.82 L619.97,23.67 L621.04,23.53 L622.11,23.41 L623.18,23.29 L624.26,23.18 L625.34,23.09 L626.42,23.00 L627.50,22.92 L628.58,22.86 L629.65,22.80 L630.72,22.75 L631.78,22.70 L632.83,22.67 L633.88,22.63 L634.94,22.60 L636.02,22.58 L637.11,22.56 L638.22,22.54 L639.34,22.52 L640.46,22.50 L641.57,22.48 L642.68,22.47 L643.76,22.46 L644.82,22.45 L645.95,22.43 L647.13,22.42 L648.24,22.41 L649.26,22.41 L650.12,22.40 L650.80,22.40" fill="none" stroke="#000" stroke-width="1.4" stroke-linejoin="round" stroke-linecap="butt"/>
<path d="M650.80,22.40 L650.67,23.02 L650.51,23.80 L650.32,24.71 L650.11,25.71 L649.89,26.77 L649.65,27.87 L649.42,28.88 L649.19,29.93 L648.94,31.00 L648.68,32.08 L648.41,33.18 L648.13,34.27 L647.84,35.37 L647.54,36.45 L647.24,37.52 L646.92,38.58 L646.60,39.63 L646.27,40.66 L645.93,41.68 L645.58,42.69 L645.23,43.69 L644.87,44.68 L644.49,45.67 L644.11,46.66 L643.72,47.65 L643.31,48.62 L642.90,49.59 L642.47,50.55 L642.04,51.51 L641.59,52.45 L641.13,53.38 L640.66,54.31 L640.18,55.24 L639.68,56.16 L639.16,57.08 L638.64,57.99 L638.11,58.88 L637.58,59.77 L637.03,60.64 L636.47,61.52 L635.90,62.39 L635.32,63.25 L634.72,64.11 L634.12,64.97 L633.50,65.83 L632.88,66.68 L632.24,67.52 L631.59,68.36 L630.94,69.19 L630.27,70.02 L629.60,70.83 L628.92,71.65 L628.22,72.45 L627.52,73.25 L626.81,74.05 L626.09,74.84 L625.36,75.62 L624.63,76.39 L623.89,77.15 L623.15,77.90 L622.41,78.65 L621.66,79.39 L620.90,80.12 L620.12,80.86 L619.35,81.58 L618.56,82.29 L617.77,83.00 L616.98,83.69 L616.18,84.37 L615.38,85.05 L614.57,85.71 L613.75,86.36 L612.93,87.01 L612.09,87.65 L611.23,88.29 L610.39,88.91 L609.54,89.52 L608.69,90.12 L607.84,90.71 L606.99,91.29 L606.14,91.87 L605.28,92.45 L604.42,93.02 L603.56,93.59 L602.69,94.15 L601.83,94.70 L600.96,95.25 L600.10,95.78 L599.24,96.31 L598.36,96.84 L597.49,97.35 L596.60,97.86 L595.70,98.36 L594.78,98.85 L593.85,99.33 L592.91,99.80 L591.96,100.25 L590.99,100.70 L590.01,101.12 L589.02,101.54 L588.02,101.94 L587.02,102.33 L586.01,102.70 L585.00,103.07 L584.01,103.42 L583.00,103.76 L581.98,104.10 L580.96,104.44 L579.94,104.76 L578.94,105.07 L577.95,105.37 L576.96,105.66 L575.97,105.95 L574.99,106.24 L574.01,106.51 L573.03,106.79 L572.06,107.06 L571.07,107.33 L570.12,107.58 L569.16,107.83 L568.20,108.07 L567.22,108.32 L566.24,108.56 L565.26,108.79 L564.29,109.02 L563.33,109.23 L562.36,109.45 L561.38,109.65 L560.38,109.86 L559.38,110.06 L558.36,110.25 L557.33,110.44 L556.30,110.62 L555.28,110.80 L554.28,110.97 L553.27,111.14 L552.24,111.31 L551.21,111.48 L550.17,111.65 L549.12,111.82 L548.07,112.00 L547.02,112.17 L545.98,112.34 L544.94,112.51 L543.90,112.69 L542.87,112.86 L541.84,113.03 L540.81,113.20 L539.79,113.38 L538.76,113.55 L537.73,113.73 L536.70,113.91 L535.67,114.09 L534.64,114.27 L533.62,114.45 L532.59,114.64 L531.57,114.82 L530.54,115.02 L529.51,115.21 L528.47,115.41 L527.44,115.61 L526.40,115.82 L525.36,116.02 L524.33,116.23 L523.29,116.45 L522.26,116.66 L521.22,116.88 L520.18,117.09 L519.15,117.31 L518.12,117.54 L517.09,117.76 L516.06,117.99 L515.04,118.22 L514.02,118.45 L513.00,118.68 L511.99,118.91 L510.98,119.14 L509.98,119.38 L508.98,119.62 L507.98,119.85 L506.98,120.09 L505.98,120.32 L504.98,120.55 L503.98,120.78 L502.99,121.01 L501.99,121.23 L501.00,121.45 L500.00,121.67 L499.01,121.88 L498.01,122.08 L497.02,122.29 L496.02,122.49 L495.03,122.68 L494.03,122.87 L493.03,123.06 L492.03,123.25 L491.03,123.43 L490.03,123.61 L489.02,123.79 L488.01,123.97 L487.00,124.14 L485.98,124.31 L484.95,124.47 L483.92,124.64 L482.88,124.80 L481.84,124.96 L480.79,125.11 L479.75,125.27 L478.69,125.42 L477.64,125.57 L476.59,125.72 L475.54,125.87 L474.49,126.03 L473.44,126.18 L472.39,126.35 L471.35,126.51 L470.30,126.68 L469.26,126.86 L468.22,127.04 L467.18,127.23 L466.15,127.42 L465.12,127.61 L464.10,127.81 L463.07,128.02 L462.05,128.22 L461.03,128.43 L460.01,128.64 L458.99,128.86 L457.97,129.07 L456.96,129.28 L455.94,129.50 L454.92,129.72 L453.90,129.94 L452.88,130.16 L451.86,130.38 L450.84,130.60 L449.81,130.82 L448.79,131.04 L447.76,131.26 L446.73,131.48 L445.70,131.71 L444.66,131.93 L443.63,132.16 L442.59,132.38 L441.55,132.60 L440.50,132.83 L439.45,133.05 L438.40,133.28 L437.34,133.50 L436.29,133.73 L435.24,133.95 L434.19,134.17 L433.14,134.40 L432.09,134.62 L431.04,134.85 L429.98,135.07 L428.94,135.30 L427.90,135.52 L426.86,135.74 L425.83,135.96 L424.80,136.19 L423.77,136.42 L422.74,136.65 L421.72,136.89 L420.69,137.13 L419.67,137.38 L418.66,137.64 L417.65,137.91 L416.65,138.18 L415.65,138.47 L414.65,138.77 L413.65,139.07 L412.66,139.38 L411.68,139.70 L410.70,140.02 L409.72,140.35 L408.73,140.70 L407.72,141.05 L406.69,141.41 L405.67,141.78 L404.64,142.15 L403.62,142.52 L402.63,142.88 L401.66,143.23 L400.64,143.60 L399.58,143.99 L398.53,144.39 L397.56,144.75 L396.74,145.06 L396.10,145.30" fill="none" stroke="#000" stroke-width="1.4" stroke-linejoin="round" stroke-linecap="butt"/>
<line x1="650.20" y1="53.00" x2="650.00" y2="56.50" stroke="#000" stroke-width="1.1" />
<line x1="648.50" y1="59.50" x2="648.30" y2="62.00" stroke="#000" stroke-width="1.1" />
<line x1="586.80" y1="136.20" x2="608.10" y2="136.20" stroke="#000" stroke-width="1.4" />
<line x1="586.30" y1="148.80" x2="603.20" y2="148.80" stroke="#000" stroke-width="1.5" stroke-dasharray="3.4,3.0"/>
<text x="610.8" y="139.7" font-size="8.4" fill="#222">1</text>
<text x="615.2" y="134.89999999999998" font-size="5.2" fill="#222">st</text>
<text x="622.2" y="139.7" font-size="8.4" fill="#222" textLength="21.8" lengthAdjust="spacing">cycle</text>
<text x="610.6" y="152.6" font-size="8.4" fill="#222">2</text>
<text x="614.7" y="147.79999999999998" font-size="5.2" fill="#222">nd</text>
<text x="624.8" y="152.6" font-size="8.4" fill="#222" textLength="19.2" lengthAdjust="spacing">cycle</text>
<path d="M390.20,304.83 L391.43,305.41 L392.98,305.36 L394.79,305.20 L396.83,304.91 L399.05,305.56 L401.40,305.58 L403.85,305.27 L406.35,305.27 L408.86,304.98 L411.33,304.74 L413.72,305.15 L416.00,305.39 L418.10,304.82 L420.00,305.62 L422.44,305.00 L424.77,305.00 L427.01,304.79 L429.14,305.84 L431.18,305.54 L433.13,305.68 L434.98,305.39 L436.74,304.73 L438.41,305.03 L440.00,305.20 L442.86,304.75 L445.31,305.65 L447.42,304.97 L449.26,304.63 L450.90,305.15 L453.19,303.40 L455.60,302.97 L457.15,301.99 L458.98,301.62 L461.01,300.89 L463.14,300.53 L465.30,299.68 L467.40,298.99 L469.45,299.35 L471.54,298.07 L473.66,298.08 L475.78,296.87 L477.90,297.18 L480.00,296.63 L482.09,296.11 L484.17,295.81 L486.26,295.36 L488.34,295.28 L490.42,294.37 L492.50,294.47 L494.58,294.54 L496.67,293.53 L498.75,293.98 L500.83,293.60 L502.92,292.74 L505.00,292.35 L507.14,292.13 L509.35,291.76 L511.56,292.14 L513.70,291.15 L515.71,290.40 L517.50,290.05 L519.73,289.99 L521.56,289.45 L523.24,287.98 L525.00,286.99 L526.88,286.07 L528.75,285.27 L530.62,283.55 L532.50,282.62 L534.04,281.25 L535.62,279.85 L537.18,277.79 L538.66,276.19 L540.00,274.83 L541.43,273.65 L542.66,271.24 L543.81,269.66 L545.00,267.29 L545.96,265.30 L546.88,263.44 L547.82,262.33 L548.84,260.16 L550.00,257.36 L550.81,256.05 L551.68,254.24 L552.59,252.57 L553.54,250.66 L554.52,248.06 L555.51,246.73 L556.51,244.80 L557.50,242.60 L558.65,241.03 L559.84,238.81 L561.04,236.97 L562.26,235.13 L563.46,234.10 L564.65,231.53 L565.80,229.53 L566.79,228.55 L567.77,226.65 L568.75,224.40 L569.71,222.82 L570.65,219.99 L571.56,218.29 L572.45,216.45 L573.30,214.81 L574.40,212.19 L575.48,209.70 L576.51,207.68 L577.47,206.17 L578.34,204.41 L579.10,202.67 L580.40,200.66 L581.60,199.63 L583.11,198.92 L584.91,196.69 L586.60,195.15 L588.03,192.74 L589.36,191.31 L590.70,190.27 L592.06,188.26 L593.44,186.30 L594.90,184.21 L597.25,182.14 L599.90,180.89 L601.92,180.32 L604.11,178.98 L606.50,178.64 L608.49,178.01 L610.64,178.28 L612.80,177.28 L614.80,178.00 L617.16,178.50 L619.33,177.91 L621.50,179.20 L623.70,180.21 L625.90,181.62 L628.10,182.59 L630.33,183.51 L632.57,185.04 L634.80,187.10 L636.49,188.25 L638.21,188.70 L639.86,189.95 L641.40,191.15 L643.22,192.51 L644.86,194.30 L646.40,195.30 L648.76,198.46 L650.50,200.07" fill="none" stroke="#000" stroke-width="1.5" stroke-linejoin="round"/>
<path d="M650.50,200.31 L649.91,200.88 L649.07,202.65 L648.20,205.45 L647.34,206.52 L646.44,208.31 L645.60,210.64 L644.85,212.20 L644.16,214.52 L643.50,215.76 L642.90,218.10 L642.33,219.20 L641.70,221.49 L641.15,223.71 L640.56,225.65 L639.94,228.14 L639.30,230.19 L638.76,231.37 L638.20,233.95 L637.63,235.50 L637.06,237.00 L636.50,238.52 L635.81,240.99 L635.13,242.49 L634.46,244.42 L633.80,245.75 L632.69,247.96 L631.30,250.06 L630.62,251.53 L629.85,253.03 L629.01,254.45 L628.12,256.88 L627.21,258.11 L626.30,260.25 L625.38,262.09 L624.43,263.53 L623.45,264.78 L622.46,267.07 L621.48,268.54 L620.50,269.62 L619.35,271.16 L618.22,273.14 L617.08,274.16 L615.91,276.38 L614.70,277.41 L613.46,278.81 L612.20,280.08 L610.90,281.63 L609.54,283.14 L608.10,283.83 L606.60,285.06 L605.07,286.38 L603.45,287.21 L601.70,288.54 L599.80,289.54 L598.32,290.19 L596.75,291.16 L595.11,291.77 L593.40,292.10 L591.66,293.63 L589.89,293.73 L588.10,294.44 L586.27,295.03 L584.37,296.10 L582.42,296.69 L580.47,296.84 L578.52,297.24 L576.62,297.43 L574.80,298.56 L572.83,298.29 L570.99,298.93 L569.21,298.99 L567.37,299.18 L565.40,299.42 L563.20,299.52 L561.58,299.57 L559.85,300.20 L558.04,300.62 L556.17,300.68 L554.25,300.46 L552.32,301.10 L550.38,300.71 L548.47,301.23 L546.60,301.80 L544.73,302.08 L542.83,301.88 L540.91,302.45 L539.00,302.36 L537.10,302.60 L535.23,302.86 L533.41,303.42 L531.66,303.37 L530.00,303.28 L527.85,303.67 L526.09,303.72 L524.43,303.54 L522.63,304.00 L520.40,304.10 L517.50,304.00 L516.11,304.34 L514.60,303.55 L513.00,304.02 L511.31,304.18 L509.54,303.96 L507.70,303.85 L505.81,304.36 L503.87,304.17 L501.90,304.06 L499.91,303.90 L497.90,304.77 L495.90,304.25 L493.91,304.08 L491.94,304.21 L490.00,304.28 L488.19,304.86 L486.37,304.28 L484.53,304.40 L482.68,304.27 L480.81,304.64 L478.93,304.44 L477.05,304.60 L475.16,304.98 L473.26,305.18 L471.36,305.13 L469.46,304.45 L467.56,304.78 L465.66,305.23 L463.77,304.53 L461.88,304.71 L460.00,304.99 L458.14,304.92 L456.32,305.28 L454.51,305.27 L452.73,305.07 L450.95,304.90 L449.18,304.90 L447.40,304.96 L445.61,304.80 L443.80,305.36 L441.97,304.92 L440.10,305.59 L438.19,305.39 L436.23,304.87 L434.22,305.28 L432.14,305.39 L430.00,304.89 L428.35,305.29 L426.60,304.88 L424.75,305.55 L422.82,304.86 L420.83,305.42 L418.78,305.74 L416.69,305.61 L414.57,305.05 L412.45,305.31 L410.33,304.95 L408.23,305.13 L406.15,305.59 L404.12,305.54 L402.15,304.80 L400.26,305.13 L398.45,305.36 L396.74,304.93 L395.15,305.49 L393.68,305.57 L392.36,305.25 L391.19,305.08 L390.20,305.51" fill="none" stroke="#000" stroke-width="1.5" stroke-linejoin="round"/>
<line x1="537.50" y1="264.50" x2="563.98" y2="219.99" stroke="#000" stroke-width="1.5" />
<polygon points="567.30,214.40 566.04,222.38 560.89,219.31" fill="#000"/>
<path d="M634.50,218.70 Q629.94,242.16 621.83,257.21" fill="none" stroke="#000" stroke-width="1.5"/>
<polygon points="618.60,263.20 619.48,254.82 625.12,257.85" fill="#000"/>
<line x1="650.60" y1="283.40" x2="650.60" y2="310.10" stroke="#000" stroke-width="1.3" />
<text x="609.2" y="305.7" font-size="10.8" font-weight="bold" textLength="19.9" lengthAdjust="spacingAndGlyphs">2? 0</text>
<text x="630.8" y="302.2" font-size="9.2" font-weight="bold" textLength="13.8" lengthAdjust="spacingAndGlyphs">-11</text>
<line x1="726.20" y1="24.50" x2="996.20" y2="24.50" stroke="#c4c4c4" stroke-width="1" />
<line x1="995.60" y1="24.50" x2="995.60" y2="172.80" stroke="#c4c4c4" stroke-width="1" />
<line x1="726.20" y1="24.00" x2="726.20" y2="172.80" stroke="#000" stroke-width="1.45" />
<line x1="725.60" y1="172.80" x2="996.20" y2="172.80" stroke="#000" stroke-width="1.45" />
<line x1="726.20" y1="173.50" x2="726.20" y2="321.00" stroke="#d0d0d0" stroke-width="1.6" />
<line x1="995.60" y1="172.80" x2="995.60" y2="321.60" stroke="#000" stroke-width="1.45" />
<line x1="725.60" y1="321.00" x2="996.20" y2="321.00" stroke="#000" stroke-width="1.45" />
<line x1="725.50" y1="24.50" x2="729.40" y2="24.50" stroke="#000" stroke-width="1.3" />
<line x1="726.20" y1="34.95" x2="731.20" y2="34.95" stroke="#000" stroke-width="1.1" />
<line x1="726.20" y1="56.20" x2="731.20" y2="56.20" stroke="#000" stroke-width="1.1" />
<line x1="726.20" y1="77.45" x2="731.20" y2="77.45" stroke="#000" stroke-width="1.1" />
<line x1="726.20" y1="98.70" x2="731.20" y2="98.70" stroke="#000" stroke-width="1.1" />
<line x1="726.20" y1="119.95" x2="731.20" y2="119.95" stroke="#000" stroke-width="1.1" />
<line x1="726.20" y1="141.20" x2="731.20" y2="141.20" stroke="#000" stroke-width="1.1" />
<line x1="726.20" y1="162.45" x2="731.20" y2="162.45" stroke="#000" stroke-width="1.1" />
<line x1="726.20" y1="45.58" x2="729.20" y2="45.58" stroke="#000" stroke-width="1.1" />
<line x1="726.20" y1="66.83" x2="729.20" y2="66.83" stroke="#000" stroke-width="1.1" />
<line x1="726.20" y1="88.08" x2="729.20" y2="88.08" stroke="#000" stroke-width="1.1" />
<line x1="726.20" y1="109.33" x2="729.20" y2="109.33" stroke="#000" stroke-width="1.1" />
<line x1="726.20" y1="130.57" x2="729.20" y2="130.57" stroke="#000" stroke-width="1.1" />
<line x1="726.20" y1="151.82" x2="729.20" y2="151.82" stroke="#000" stroke-width="1.1" />
<text transform="translate(721.00,37.55) scale(0.93,1)" font-size="9.8" font-weight="bold" text-anchor="end">0.3</text>
<text transform="translate(721.00,58.80) scale(0.93,1)" font-size="9.8" font-weight="bold" text-anchor="end">0.2</text>
<text transform="translate(721.00,80.05) scale(0.93,1)" font-size="9.8" font-weight="bold" text-anchor="end">0.1</text>
<text transform="translate(721.00,101.30) scale(0.93,1)" font-size="9.8" font-weight="bold" text-anchor="end">0.0</text>
<text transform="translate(721.00,122.55) scale(0.93,1)" font-size="9.8" font-weight="bold" text-anchor="end">-0.1</text>
<text transform="translate(721.00,143.80) scale(0.93,1)" font-size="9.8" font-weight="bold" text-anchor="end">-0.2</text>
<text transform="translate(721.00,165.05) scale(0.93,1)" font-size="9.8" font-weight="bold" text-anchor="end">-0.3</text>
<line x1="733.70" y1="172.80" x2="733.70" y2="168.30" stroke="#000" stroke-width="1.1" />
<line x1="749.10" y1="172.80" x2="749.10" y2="170.60" stroke="#000" stroke-width="1.1" />
<line x1="764.50" y1="172.80" x2="764.50" y2="168.30" stroke="#000" stroke-width="1.1" />
<line x1="779.90" y1="172.80" x2="779.90" y2="170.60" stroke="#000" stroke-width="1.1" />
<line x1="795.30" y1="172.80" x2="795.30" y2="168.30" stroke="#000" stroke-width="1.1" />
<line x1="810.70" y1="172.80" x2="810.70" y2="170.60" stroke="#000" stroke-width="1.1" />
<line x1="826.10" y1="172.80" x2="826.10" y2="168.30" stroke="#000" stroke-width="1.1" />
<line x1="841.50" y1="172.80" x2="841.50" y2="170.60" stroke="#000" stroke-width="1.1" />
<line x1="856.90" y1="172.80" x2="856.90" y2="168.30" stroke="#000" stroke-width="1.1" />
<line x1="872.30" y1="172.80" x2="872.30" y2="170.60" stroke="#000" stroke-width="1.1" />
<line x1="887.70" y1="172.80" x2="887.70" y2="168.30" stroke="#000" stroke-width="1.1" />
<line x1="903.10" y1="172.80" x2="903.10" y2="170.60" stroke="#000" stroke-width="1.1" />
<line x1="918.50" y1="172.80" x2="918.50" y2="168.30" stroke="#000" stroke-width="1.1" />
<line x1="933.90" y1="172.80" x2="933.90" y2="170.60" stroke="#000" stroke-width="1.1" />
<line x1="949.30" y1="172.80" x2="949.30" y2="168.30" stroke="#000" stroke-width="1.1" />
<line x1="964.70" y1="172.80" x2="964.70" y2="170.60" stroke="#000" stroke-width="1.1" />
<line x1="980.10" y1="172.80" x2="980.10" y2="168.30" stroke="#000" stroke-width="1.1" />
<line x1="733.70" y1="321.00" x2="733.70" y2="316.50" stroke="#000" stroke-width="1.1" />
<line x1="749.10" y1="321.00" x2="749.10" y2="318.80" stroke="#000" stroke-width="1.1" />
<line x1="764.50" y1="321.00" x2="764.50" y2="316.50" stroke="#000" stroke-width="1.1" />
<line x1="779.90" y1="321.00" x2="779.90" y2="318.80" stroke="#000" stroke-width="1.1" />
<line x1="795.30" y1="321.00" x2="795.30" y2="316.50" stroke="#000" stroke-width="1.1" />
<line x1="810.70" y1="321.00" x2="810.70" y2="318.80" stroke="#000" stroke-width="1.1" />
<line x1="826.10" y1="321.00" x2="826.10" y2="316.50" stroke="#000" stroke-width="1.1" />
<line x1="841.50" y1="321.00" x2="841.50" y2="318.80" stroke="#000" stroke-width="1.1" />
<line x1="856.90" y1="321.00" x2="856.90" y2="316.50" stroke="#000" stroke-width="1.1" />
<line x1="872.30" y1="321.00" x2="872.30" y2="318.80" stroke="#000" stroke-width="1.1" />
<line x1="887.70" y1="321.00" x2="887.70" y2="316.50" stroke="#000" stroke-width="1.1" />
<line x1="903.10" y1="321.00" x2="903.10" y2="318.80" stroke="#000" stroke-width="1.1" />
<line x1="918.50" y1="321.00" x2="918.50" y2="316.50" stroke="#000" stroke-width="1.1" />
<line x1="933.90" y1="321.00" x2="933.90" y2="318.80" stroke="#000" stroke-width="1.1" />
<line x1="949.30" y1="321.00" x2="949.30" y2="316.50" stroke="#000" stroke-width="1.1" />
<line x1="964.70" y1="321.00" x2="964.70" y2="318.80" stroke="#000" stroke-width="1.1" />
<line x1="980.10" y1="321.00" x2="980.10" y2="316.50" stroke="#000" stroke-width="1.1" />
<text transform="translate(733.70,333.80) scale(0.93,1)" font-size="9.8" font-weight="bold" text-anchor="middle">0.0</text>
<text transform="translate(764.50,333.80) scale(0.93,1)" font-size="9.8" font-weight="bold" text-anchor="middle">0.1</text>
<text transform="translate(795.30,333.80) scale(0.93,1)" font-size="9.8" font-weight="bold" text-anchor="middle">0.2</text>
<text transform="translate(826.10,333.80) scale(0.93,1)" font-size="9.8" font-weight="bold" text-anchor="middle">0.3</text>
<text transform="translate(856.90,333.80) scale(0.93,1)" font-size="9.8" font-weight="bold" text-anchor="middle">0.4</text>
<text transform="translate(887.70,333.80) scale(0.93,1)" font-size="9.8" font-weight="bold" text-anchor="middle">0.5</text>
<text transform="translate(918.50,333.80) scale(0.93,1)" font-size="9.8" font-weight="bold" text-anchor="middle">0.6</text>
<text transform="translate(949.30,333.80) scale(0.93,1)" font-size="9.8" font-weight="bold" text-anchor="middle">0.7</text>
<text transform="translate(980.10,333.80) scale(0.93,1)" font-size="9.8" font-weight="bold" text-anchor="middle">0.8</text>
<line x1="995.60" y1="304.50" x2="990.60" y2="304.50" stroke="#000" stroke-width="1.1" />
<line x1="995.60" y1="278.05" x2="990.60" y2="278.05" stroke="#000" stroke-width="1.1" />
<line x1="995.60" y1="251.60" x2="990.60" y2="251.60" stroke="#000" stroke-width="1.1" />
<line x1="995.60" y1="225.15" x2="990.60" y2="225.15" stroke="#000" stroke-width="1.1" />
<line x1="995.60" y1="198.70" x2="990.60" y2="198.70" stroke="#000" stroke-width="1.1" />
<line x1="995.60" y1="291.30" x2="992.60" y2="291.30" stroke="#000" stroke-width="1.1" />
<line x1="995.60" y1="264.85" x2="992.60" y2="264.85" stroke="#000" stroke-width="1.1" />
<line x1="995.60" y1="238.40" x2="992.60" y2="238.40" stroke="#000" stroke-width="1.1" />
<line x1="995.60" y1="211.95" x2="992.60" y2="211.95" stroke="#000" stroke-width="1.1" />
<line x1="995.60" y1="185.50" x2="992.60" y2="185.50" stroke="#000" stroke-width="1.1" />
<text x="770.50" y="53.40" font-size="12.3" font-weight="bold" text-anchor="start" >PR</text>
<text transform="translate(701.3,84.3) rotate(-90)" font-size="12.1" font-weight="bold" text-anchor="middle">Current (mA)</text>
<text transform="translate(1009.2,250.7) rotate(90)" font-size="11.6" font-weight="bold" text-anchor="middle">Ion current (A)</text>
<text x="806.10" y="352.20" font-size="11.6" font-weight="bold" text-anchor="start" textLength="108.8" lengthAdjust="spacingAndGlyphs">Potential (V) vs RHE</text>
<text x="819.70" y="207.00" font-size="10.4" font-weight="bold" text-anchor="start" >m/z=44</text>
<path d="M749.50,108.00 L749.65,107.23 L749.84,106.20 L750.07,105.05 L750.37,103.92 L750.76,102.84 L751.25,101.85 L751.70,100.89 L752.24,99.93 L752.81,99.03 L753.42,98.20 L754.07,97.44 L754.75,96.78 L755.45,96.20 L756.20,95.69 L756.99,95.26 L757.82,94.89 L758.70,94.59 L759.65,94.35 L760.67,94.15 L761.68,94.00 L762.64,93.89 L763.61,93.79 L764.59,93.71 L765.59,93.65 L766.60,93.59 L767.62,93.54 L768.65,93.50 L769.68,93.46 L770.70,93.43 L771.70,93.40 L772.65,93.38 L773.54,93.37 L774.46,93.35 L775.41,93.34 L776.38,93.33 L777.37,93.32 L778.38,93.31 L779.41,93.30 L780.45,93.29 L781.51,93.28 L782.59,93.27 L783.67,93.27 L784.76,93.26 L785.86,93.25 L786.96,93.24 L788.07,93.22 L789.17,93.21 L790.28,93.20 L791.38,93.18 L792.48,93.17 L793.57,93.15 L794.65,93.12 L795.72,93.10 L796.79,93.07 L797.85,93.05 L798.91,93.02 L799.96,92.98 L801.00,92.95 L802.04,92.91 L803.07,92.87 L804.11,92.83 L805.14,92.79 L806.17,92.74 L807.20,92.70 L808.24,92.65 L809.28,92.60 L810.31,92.55 L811.35,92.50 L812.39,92.45 L813.43,92.39 L814.46,92.34 L815.50,92.28 L816.53,92.22 L817.56,92.17 L818.59,92.11 L819.62,92.05 L820.64,91.98 L821.66,91.92 L822.67,91.86 L823.68,91.80 L824.68,91.73 L825.67,91.67 L826.66,91.60 L827.66,91.53 L828.66,91.47 L829.67,91.40 L830.69,91.33 L831.72,91.26 L832.75,91.19 L833.80,91.12 L834.85,91.05 L835.91,90.98 L836.99,90.92 L838.07,90.85 L839.16,90.78 L840.26,90.71 L841.35,90.64 L842.44,90.57 L843.53,90.50 L844.60,90.43 L845.67,90.35 L846.72,90.27 L847.77,90.19 L848.80,90.11 L849.82,90.02 L850.82,89.92 L851.81,89.82 L852.78,89.71 L853.74,89.59 L854.67,89.47 L855.62,89.32 L856.59,89.16 L857.57,88.98 L858.54,88.78 L859.53,88.55 L860.50,88.31 L861.48,88.04 L862.45,87.75 L863.42,87.43 L864.38,87.08 L865.34,86.71 L866.30,86.31 L867.27,85.88 L868.20,85.42 L869.10,84.94 L869.99,84.43 L870.86,83.91 L871.71,83.37 L872.54,82.82 L873.36,82.24 L874.17,81.65 L874.97,81.04 L875.77,80.42 L876.56,79.78 L877.35,79.13 L878.13,78.46 L878.90,77.78 L879.66,77.09 L880.41,76.40 L881.15,75.69 L881.90,74.96 L882.64,74.22 L883.38,73.47 L884.12,72.71 L884.85,71.94 L885.58,71.17 L886.30,70.39 L887.01,69.61 L887.72,68.82 L888.42,68.03 L889.11,67.22 L889.80,66.42 L890.48,65.60 L891.16,64.78 L891.82,63.95 L892.49,63.11 L893.14,62.26 L893.79,61.41 L894.43,60.55 L895.07,59.68 L895.70,58.81 L896.32,57.94 L896.93,57.07 L897.54,56.21 L898.14,55.36 L898.73,54.52 L899.31,53.70 L899.91,52.87 L900.51,52.03 L901.12,51.19 L901.74,50.35 L902.36,49.51 L902.99,48.68 L903.62,47.85 L904.26,47.03 L904.90,46.22 L905.56,45.42 L906.22,44.62 L906.90,43.84 L907.60,43.06 L908.30,42.32 L909.02,41.61 L909.74,40.93 L910.49,40.29 L911.26,39.68 L912.05,39.09 L912.87,38.54 L913.71,38.02 L914.58,37.53 L915.47,37.07 L916.38,36.65 L917.30,36.26 L918.24,35.90 L919.19,35.59 L920.15,35.31 L921.12,35.08 L922.09,34.90 L923.07,34.77 L924.04,34.68 L925.02,34.64 L926.00,34.65 L926.98,34.71 L927.97,34.81 L928.97,34.96 L929.98,35.14 L930.99,35.36 L931.98,35.60 L932.97,35.87 L933.96,36.16 L934.95,36.47 L935.93,36.80 L936.91,37.14 L937.90,37.49 L938.88,37.86 L939.85,38.23 L940.82,38.61 L941.79,39.00 L942.74,39.39 L943.70,39.78 L944.67,40.18 L945.64,40.58 L946.62,40.97 L947.60,41.35 L948.59,41.73 L949.59,42.10 L950.59,42.46 L951.59,42.80 L952.60,43.14 L953.61,43.46 L954.62,43.76 L955.64,44.06 L956.65,44.34 L957.67,44.62 L958.69,44.88 L959.71,45.14 L960.72,45.39 L961.74,45.64 L962.77,45.88 L963.80,46.12 L964.85,46.36 L965.91,46.60 L966.98,46.83 L968.06,47.06 L969.13,47.29 L970.21,47.52 L971.28,47.74 L972.34,47.95 L973.38,48.16 L974.38,48.36 L975.47,48.58 L976.53,48.78 L977.52,48.97 L978.41,49.14 L979.18,49.28 L979.80,49.40" fill="none" stroke="#000" stroke-width="1.8" stroke-linejoin="round" stroke-linecap="butt"/>
<path d="M979.80,49.40 L979.80,50.01 L979.80,50.77 L979.81,51.65 L979.81,52.62 L979.82,53.66 L979.82,54.75 L979.81,55.75 L979.81,56.80 L979.80,57.88 L979.78,58.98 L979.76,60.08 L979.73,61.20 L979.69,62.32 L979.64,63.43 L979.59,64.54 L979.52,65.63 L979.44,66.72 L979.36,67.80 L979.26,68.86 L979.16,69.92 L979.04,70.96 L978.91,72.00 L978.78,73.03 L978.63,74.05 L978.48,75.07 L978.31,76.08 L978.13,77.09 L977.93,78.10 L977.73,79.10 L977.51,80.10 L977.28,81.09 L977.03,82.08 L976.77,83.06 L976.50,84.03 L976.21,84.99 L975.89,85.94 L975.56,86.89 L975.21,87.83 L974.83,88.75 L974.42,89.66 L973.99,90.56 L973.52,91.44 L973.02,92.31 L972.48,93.16 L971.91,94.00 L971.30,94.82 L970.66,95.63 L969.99,96.42 L969.28,97.20 L968.54,97.96 L967.78,98.71 L966.99,99.43 L966.19,100.13 L965.37,100.81 L964.54,101.47 L963.69,102.11 L962.83,102.73 L961.95,103.34 L961.07,103.92 L960.16,104.49 L959.25,105.03 L958.33,105.57 L957.39,106.08 L956.45,106.58 L955.50,107.06 L954.56,107.52 L953.62,107.97 L952.68,108.40 L951.74,108.81 L950.81,109.21 L949.87,109.60 L948.94,109.97 L948.01,110.33 L947.08,110.67 L946.16,111.00 L945.23,111.32 L944.29,111.63 L943.34,111.93 L942.36,112.22 L941.38,112.51 L940.40,112.78 L939.41,113.04 L938.42,113.30 L937.42,113.54 L936.41,113.77 L935.39,113.99 L934.37,114.20 L933.34,114.40 L932.31,114.60 L931.27,114.78 L930.24,114.96 L929.21,115.12 L928.17,115.29 L927.12,115.44 L926.06,115.60 L925.00,115.75 L923.94,115.89 L922.89,116.03 L921.85,116.17 L920.82,116.30 L919.78,116.42 L918.74,116.55 L917.69,116.67 L916.64,116.78 L915.59,116.89 L914.54,117.00 L913.50,117.09 L912.47,117.18 L911.43,117.27 L910.40,117.34 L909.36,117.41 L908.31,117.48 L907.25,117.54 L906.20,117.59 L905.17,117.63 L904.14,117.67 L903.12,117.71 L902.09,117.74 L901.06,117.76 L900.02,117.79 L898.97,117.81 L897.91,117.82 L896.85,117.84 L895.78,117.85 L894.71,117.86 L893.63,117.87 L892.56,117.87 L891.49,117.87 L890.42,117.87 L889.36,117.87 L888.29,117.86 L887.22,117.85 L886.15,117.83 L885.07,117.81 L884.01,117.79 L882.94,117.76 L881.89,117.73 L880.83,117.70 L879.78,117.66 L878.74,117.62 L877.69,117.57 L876.64,117.52 L875.59,117.46 L874.54,117.41 L873.50,117.35 L872.47,117.29 L871.43,117.22 L870.40,117.16 L869.37,117.09 L868.33,117.02 L867.29,116.96 L866.25,116.88 L865.21,116.81 L864.17,116.74 L863.12,116.66 L862.08,116.59 L861.03,116.51 L859.98,116.43 L858.94,116.34 L857.89,116.26 L856.84,116.17 L855.79,116.09 L854.74,116.00 L853.69,115.90 L852.64,115.81 L851.59,115.72 L850.53,115.62 L849.48,115.52 L848.43,115.42 L847.37,115.32 L846.32,115.22 L845.26,115.11 L844.21,115.00 L843.16,114.89 L842.10,114.78 L841.05,114.67 L839.99,114.56 L838.94,114.44 L837.88,114.33 L836.83,114.21 L835.78,114.10 L834.72,113.98 L833.67,113.87 L832.62,113.75 L831.56,113.64 L830.51,113.53 L829.45,113.42 L828.40,113.31 L827.35,113.20 L826.29,113.10 L825.24,113.00 L824.18,112.91 L823.13,112.82 L822.08,112.73 L821.02,112.66 L819.97,112.59 L818.91,112.53 L817.84,112.48 L816.77,112.45 L815.70,112.43 L814.61,112.42 L813.52,112.43 L812.43,112.45 L811.34,112.49 L810.25,112.53 L809.17,112.59 L808.10,112.66 L807.05,112.74 L805.97,112.83 L804.91,112.92 L803.86,113.02 L802.85,113.13 L801.85,113.25 L800.87,113.38 L799.88,113.54 L798.91,113.70 L797.96,113.88 L797.01,114.08 L796.06,114.29 L795.10,114.53 L794.12,114.78 L793.15,115.05 L792.19,115.34 L791.21,115.66 L790.21,115.99 L789.20,116.33 L788.20,116.68 L787.23,117.02 L786.23,117.39 L785.22,117.77 L784.21,118.16 L783.22,118.56 L782.23,118.97 L781.27,119.39 L780.32,119.81 L779.39,120.25 L778.47,120.69 L777.55,121.14 L776.63,121.60 L775.71,122.08 L774.78,122.57 L773.87,123.07 L772.97,123.59 L772.07,124.11 L771.17,124.65 L770.28,125.20 L769.39,125.77 L768.50,126.35 L767.62,126.94 L766.75,127.56 L765.90,128.18 L765.06,128.82 L764.24,129.48 L763.45,130.14 L762.66,130.82 L761.90,131.52 L761.15,132.23 L760.41,132.97 L759.69,133.72 L758.99,134.48 L758.31,135.26 L757.65,136.06 L757.01,136.87 L756.40,137.69 L755.81,138.53 L755.25,139.39 L754.70,140.28 L754.18,141.19 L753.71,142.10 L753.26,143.02 L752.84,143.97 L752.44,144.94 L752.06,145.93 L751.71,146.94 L751.38,147.97 L751.07,148.99 L750.79,150.01 L750.52,151.01 L750.24,152.05 L749.99,153.10 L749.75,154.16 L749.53,155.17 L749.35,156.04 L749.20,156.70" fill="none" stroke="#000" stroke-width="1.8" stroke-linejoin="round" stroke-linecap="butt"/>
<path d="M748.70,155.00 L748.72,154.43 L748.74,153.75 L748.76,152.97 L748.78,152.11 L748.80,151.19 L748.83,150.20 L748.86,149.28 L748.88,148.31 L748.91,147.30 L748.94,146.26 L748.97,145.18 L749.00,144.08 L749.03,142.96 L749.06,141.84 L749.10,140.70 L749.14,139.57 L749.17,138.45 L749.21,137.33 L749.25,136.24 L749.29,135.15 L749.34,134.05 L749.38,132.96 L749.43,131.87 L749.49,130.78 L749.55,129.70 L749.61,128.62 L749.67,127.54 L749.74,126.47 L749.81,125.40 L749.88,124.33 L749.96,123.26 L750.05,122.19 L750.13,121.14 L750.21,120.12 L750.30,119.12 L750.39,118.16 L750.47,117.22 L750.57,116.25 L750.67,115.27 L750.78,114.29 L750.90,113.31 L751.02,112.36 L751.15,111.41 L751.29,110.48 L751.44,109.55 L751.60,108.61 L751.78,107.65 L751.97,106.67 L752.18,105.68 L752.40,104.67 L752.63,103.69 L752.87,102.75 L753.13,101.80 L753.40,100.86 L753.67,99.91 L753.97,98.94 L754.30,97.95 L754.65,96.97 L755.03,96.00 L755.42,95.03 L755.84,94.06 L756.29,93.10 L756.77,92.13 L757.27,91.16 L757.80,90.20 L758.35,89.27 L758.96,88.34 L759.61,87.42 L760.30,86.54 L761.01,85.72 L761.78,84.94 L762.58,84.20 L763.40,83.51 L764.27,82.89 L765.16,82.32 L766.08,81.82 L767.04,81.39 L768.03,81.02 L769.06,80.71 L770.10,80.48 L771.16,80.32 L772.23,80.20 L773.31,80.14 L774.39,80.11 L775.45,80.13 L776.51,80.19 L777.55,80.29 L778.59,80.43 L779.63,80.61 L780.69,80.83 L781.74,81.06 L782.76,81.31 L783.78,81.58 L784.79,81.86 L785.79,82.15 L786.80,82.45 L787.82,82.77 L788.86,83.09 L789.91,83.42 L790.98,83.76 L792.04,84.10 L793.08,84.43 L794.08,84.74 L795.11,85.07 L796.09,85.39 L797.01,85.70 L797.93,86.00 L798.93,86.28 L799.90,86.55 L800.83,86.79 L801.73,87.02 L802.61,87.22 L803.46,87.40 L804.31,87.58 L805.16,87.73 L806.03,87.88 L806.87,88.01 L807.77,88.13 L808.72,88.25 L809.68,88.36 L810.55,88.47 L811.45,88.57 L812.38,88.68 L813.34,88.79 L814.33,88.90 L815.35,89.01 L816.40,89.12 L817.46,89.22 L818.55,89.33 L819.65,89.42 L820.78,89.51 L821.91,89.60 L823.06,89.67 L824.22,89.74 L825.39,89.80 L826.54,89.85 L827.68,89.88 L828.80,89.91 L829.91,89.93 L831.01,89.93 L832.09,89.92 L833.16,89.91 L834.22,89.88 L835.27,89.85 L836.31,89.80 L837.34,89.75 L838.36,89.69 L839.38,89.62 L840.41,89.54 L841.45,89.46 L842.50,89.38 L843.57,89.28 L844.64,89.19 L845.72,89.09 L846.80,88.98 L847.89,88.87 L848.98,88.76 L850.07,88.65 L851.16,88.53 L852.25,88.41 L853.34,88.29 L854.42,88.17 L855.49,88.05 L856.55,87.93 L857.61,87.81 L858.65,87.69 L859.68,87.57 L860.69,87.45 L861.69,87.34 L862.67,87.22 L863.63,87.11 L864.61,87.00 L865.60,86.89 L866.61,86.78 L867.63,86.67 L868.64,86.56 L869.66,86.45 L870.68,86.34 L871.70,86.23 L872.72,86.12 L873.73,86.01 L874.74,85.90 L875.76,85.79 L876.78,85.68 L877.77,85.57 L878.73,85.47 L879.67,85.36 L880.60,85.25 L881.52,85.14 L882.46,85.03 L883.40,84.91 L884.37,84.79 L885.33,84.67 L886.29,84.55 L887.26,84.42 L888.23,84.30 L889.21,84.17 L890.19,84.04 L891.17,83.91 L892.16,83.78 L893.16,83.65 L894.15,83.52 L895.14,83.39 L896.12,83.26 L897.08,83.13 L898.07,83.00 L899.06,82.86 L900.06,82.73 L901.08,82.59 L902.10,82.45 L903.13,82.31 L904.17,82.17 L905.22,82.02 L906.27,81.87 L907.32,81.72 L908.38,81.56 L909.44,81.41 L910.50,81.25 L911.56,81.08 L912.62,80.92 L913.67,80.75 L914.73,80.58 L915.77,80.40 L916.82,80.22 L917.85,80.04 L918.88,79.86 L919.91,79.67 L920.93,79.48 L921.94,79.28 L922.95,79.09 L923.96,78.88 L924.96,78.68 L925.96,78.47 L926.95,78.26 L927.95,78.04 L928.94,77.82 L929.94,77.60 L930.94,77.37 L931.93,77.14 L932.93,76.91 L933.93,76.67 L934.92,76.44 L935.92,76.20 L936.91,75.96 L937.90,75.72 L938.89,75.48 L939.88,75.24 L940.87,75.00 L941.85,74.76 L942.83,74.52 L943.80,74.28 L944.78,74.04 L945.74,73.80 L946.72,73.56 L947.70,73.32 L948.69,73.08 L949.69,72.84 L950.70,72.60 L951.72,72.35 L952.76,72.10 L953.81,71.85 L954.88,71.59 L955.96,71.33 L957.06,71.07 L958.18,70.80 L959.30,70.53 L960.43,70.26 L961.56,69.98 L962.69,69.71 L963.82,69.44 L964.93,69.17 L966.03,68.90 L967.12,68.64 L968.19,68.38 L969.23,68.13 L970.25,67.88 L971.23,67.64 L972.19,67.41 L973.11,67.18 L973.99,66.97 L974.82,66.77 L975.71,66.55 L976.54,66.35 L977.32,66.16 L978.02,65.99 L978.65,65.83 L979.20,65.70" fill="none" stroke="#000" stroke-width="1.1" stroke-linejoin="round" stroke-linecap="butt" stroke-dasharray="3,2.6"/>
<path d="M979.20,65.70 L979.30,66.39 L979.45,67.28 L979.61,68.31 L979.76,69.43 L979.88,70.59 L979.94,71.71 L980.02,72.77 L980.07,73.86 L980.11,74.96 L980.11,76.08 L980.09,77.20 L980.04,78.31 L979.96,79.40 L979.85,80.48 L979.71,81.53 L979.55,82.56 L979.36,83.59 L979.15,84.63 L978.92,85.67 L978.68,86.71 L978.41,87.74 L978.12,88.77 L977.80,89.79 L977.46,90.79 L977.08,91.79 L976.66,92.77 L976.22,93.73 L975.74,94.68 L975.22,95.61 L974.67,96.50 L974.07,97.37 L973.44,98.21 L972.77,99.02 L972.05,99.81 L971.29,100.57 L970.49,101.31 L969.68,102.01 L968.84,102.67 L967.99,103.31 L967.12,103.92 L966.23,104.51 L965.32,105.07 L964.39,105.61 L963.45,106.12 L962.50,106.61 L961.54,107.08 L960.57,107.52 L959.60,107.94 L958.63,108.33 L957.64,108.72 L956.64,109.10 L955.64,109.46 L954.64,109.81 L953.64,110.15 L952.64,110.48 L951.64,110.79 L950.65,111.10 L949.66,111.39 L948.67,111.67 L947.68,111.95 L946.70,112.21 L945.71,112.46 L944.71,112.71 L943.70,112.94 L942.67,113.18 L941.64,113.40 L940.62,113.61 L939.60,113.82 L938.57,114.02 L937.54,114.22 L936.50,114.40 L935.46,114.59 L934.42,114.76 L933.37,114.93 L932.32,115.10 L931.28,115.26 L930.24,115.42 L929.21,115.57 L928.17,115.71 L927.12,115.86 L926.06,116.00 L925.00,116.14 L923.94,116.27 L922.89,116.40 L921.85,116.53 L920.82,116.65 L919.78,116.77 L918.72,116.88 L917.65,116.99 L916.56,117.09 L915.46,117.19 L914.35,117.27 L913.22,117.35 L912.10,117.43 L910.97,117.49 L909.84,117.55 L908.71,117.59 L907.60,117.64 L906.50,117.67 L905.45,117.71 L904.32,117.74 L903.26,117.76 L902.27,117.77 L901.39,117.78 L900.63,117.79 L900.00,117.80" fill="none" stroke="#000" stroke-width="1.1" stroke-linejoin="round" stroke-linecap="butt" stroke-dasharray="3,2.6"/>
<line x1="894.40" y1="137.20" x2="913.80" y2="137.20" stroke="#000" stroke-width="1.8" />
<line x1="894.40" y1="149.10" x2="913.80" y2="149.10" stroke="#000" stroke-width="1.1" stroke-dasharray="2.4,2.2"/>
<text x="917.0" y="140.4" font-size="8.4" fill="#222">1</text>
<text x="921.8" y="135.6" font-size="5.2" fill="#222">st</text>
<text x="927.8" y="140.4" font-size="8.4" fill="#222" textLength="18.9" lengthAdjust="spacing">cycle</text>
<text x="916.8" y="152.2" font-size="8.4" fill="#222">2</text>
<text x="921.8" y="147.39999999999998" font-size="5.2" fill="#222">nd</text>
<text x="929.3" y="152.2" font-size="8.4" fill="#222" textLength="18.9" lengthAdjust="spacing">cycle</text>
<path d="M747.50,305.32 L748.67,305.47 L750.12,305.88 L751.81,306.30 L753.71,305.56 L755.78,305.54 L758.00,305.73 L760.32,306.49 L762.71,305.65 L765.15,306.50 L767.59,306.41 L770.00,305.69 L771.78,306.26 L773.62,306.15 L775.52,306.10 L777.46,306.93 L779.44,305.67 L781.46,305.58 L783.50,306.87 L785.56,306.12 L787.64,305.84 L789.72,306.03 L791.80,306.09 L793.88,306.92 L795.94,305.88 L797.98,305.90 L800.00,306.42 L802.04,306.38 L804.13,306.96 L806.28,306.81 L808.46,306.15 L810.65,305.96 L812.84,306.86 L815.02,307.09 L817.16,305.76 L819.26,306.76 L821.30,306.96 L823.25,306.66 L825.12,306.05 L826.88,306.85 L828.51,306.74 L830.00,305.97 L833.10,306.54 L835.46,305.90 L837.34,305.58 L838.98,305.85 L840.62,305.62 L842.50,305.35 L844.61,305.22 L846.75,304.89 L848.89,304.38 L851.00,303.64 L853.04,302.84 L855.00,301.71 L856.87,300.11 L858.67,298.93 L860.41,298.50 L862.09,297.30 L863.72,296.40 L865.30,294.53 L867.14,293.48 L868.90,293.36 L870.59,291.75 L872.19,290.62 L873.70,288.33 L875.11,287.10 L876.44,285.99 L877.68,283.69 L878.83,282.18 L879.90,279.08 L880.86,277.37 L881.72,275.67 L882.50,272.99 L883.25,271.39 L884.00,269.19 L885.16,266.14 L886.24,264.05 L887.50,262.68 L888.22,259.90 L888.96,258.42 L889.75,256.89 L890.59,255.44 L891.50,253.30 L892.50,249.97 L892.99,248.48 L893.52,247.20 L894.06,244.65 L894.62,242.84 L895.20,241.15 L895.79,239.09 L896.40,236.14 L897.00,234.12 L897.61,232.06 L898.22,230.84 L898.82,228.83 L899.42,227.38 L900.00,225.37 L900.85,222.36 L901.71,220.88 L902.59,219.10 L903.47,216.22 L904.34,213.84 L905.19,212.51 L906.00,210.60 L906.78,208.73 L907.50,206.86 L908.49,204.52 L909.40,203.20 L910.24,199.84 L911.02,198.59 L911.77,196.18 L912.50,194.57 L913.83,193.18 L915.01,191.02 L916.20,189.56 L918.10,187.61 L920.00,186.47 L921.77,186.90 L923.70,188.50 L926.04,187.62 L928.70,188.03 L930.16,189.20 L931.69,190.09 L933.31,192.05 L935.00,193.65 L936.18,194.72 L937.41,196.44 L938.67,199.25 L939.96,201.19 L941.24,203.53 L942.50,205.27 L943.57,206.96 L944.64,208.34 L945.71,211.32 L946.79,212.34 L947.86,214.79 L948.93,216.34 L950.00,218.53 L951.25,220.45 L952.50,222.54 L953.75,224.80 L955.00,226.39 L956.25,227.79 L957.50,230.39 L958.77,232.24 L960.05,234.34 L961.33,235.18 L962.60,237.91 L963.83,240.10 L965.00,240.86 L966.65,242.91 L968.21,245.60 L969.72,246.70 L971.20,248.56 L972.79,251.26 L974.44,252.91 L975.89,254.67 L976.90,256.10" fill="none" stroke="#000" stroke-width="1.8" stroke-linejoin="round"/>
<path d="M976.90,255.99 L976.73,257.65 L976.49,259.89 L976.14,263.10 L975.60,265.20 L975.11,267.25 L974.53,268.44 L973.88,270.95 L973.17,273.38 L972.44,274.97 L971.70,277.33 L970.96,279.03 L970.21,280.16 L969.43,281.41 L968.61,283.92 L967.74,284.68 L966.80,285.91 L965.56,288.23 L964.21,289.65 L962.80,290.78 L961.38,291.96 L960.00,292.04 L958.34,293.05 L956.71,294.11 L955.05,296.03 L953.30,295.73 L951.61,296.30 L949.95,296.43 L948.02,296.76 L945.50,297.25 L944.01,297.99 L942.44,298.20 L940.77,298.86 L938.96,300.11 L937.01,299.71 L934.88,300.99 L932.55,301.37 L930.00,301.58 L928.53,301.79 L926.99,302.22 L925.37,302.18 L923.69,301.93 L921.95,302.21 L920.15,302.27 L918.32,302.62 L916.44,303.48 L914.53,302.96 L912.60,302.69 L910.65,303.33 L908.68,303.89 L906.72,303.61 L904.75,304.08 L902.80,303.51 L901.07,303.63 L899.32,304.51 L897.54,303.93 L895.74,304.41 L893.93,304.67 L892.10,304.62 L890.26,304.60 L888.40,304.73 L886.54,306.03 L884.68,305.88 L882.80,306.35 L880.93,305.95 L879.05,306.66 L877.18,306.68 L875.31,306.52 L873.45,306.52 L871.60,306.61 L869.77,306.37 L867.95,306.63 L866.16,307.12 L864.37,306.55 L862.59,307.40 L860.82,307.04 L859.04,307.20 L857.25,307.50 L855.45,307.33 L853.63,306.75 L851.79,306.92 L849.92,306.65 L848.02,306.71 L846.08,307.85 L844.10,307.45 L842.08,307.93 L840.00,307.74 L838.35,307.21 L836.64,308.01 L834.89,307.98 L833.10,307.45 L831.28,307.02 L829.43,307.33 L827.55,307.16 L825.65,307.42 L823.74,307.10 L821.82,307.88 L819.90,308.21 L817.98,307.31 L816.06,308.01 L814.16,307.79 L812.28,307.68 L810.42,308.20 L808.58,307.58 L806.78,308.13 L805.01,307.20 L803.29,308.33 L801.62,307.41 L800.00,307.20 L797.84,308.28 L795.72,308.10 L793.65,308.06 L791.62,308.19 L789.63,307.74 L787.69,307.44 L785.78,307.69 L783.91,308.47 L782.07,308.51 L780.26,307.62 L778.49,307.89 L776.74,307.91 L775.02,308.46 L773.32,307.39 L771.65,308.39 L770.00,307.70 L767.79,308.07 L765.56,307.57 L763.32,307.51 L761.11,308.47 L758.95,308.02 L756.88,308.58 L754.90,308.45 L753.06,308.31 L751.37,307.49 L749.86,308.11 L748.56,308.59 L747.50,308.00" fill="none" stroke="#000" stroke-width="1.8" stroke-linejoin="round"/>
<path d="M875.50,258.70 Q889.65,229.46 898.01,204.85" fill="none" stroke="#000" stroke-width="1.1"/>
<polygon points="900.10,198.70 899.58,206.44 895.79,205.16" fill="#000"/>
<path d="M968.80,259.40 Q960.97,278.28 951.10,288.11" fill="none" stroke="#000" stroke-width="1.2"/>
<polygon points="946.50,292.70 949.98,285.56 953.65,289.25" fill="#000"/>
<line x1="982.60" y1="278.90" x2="982.60" y2="305.50" stroke="#555" stroke-width="1.4" />
<text x="945.3" y="303.6" font-size="10.4" font-weight="bold" fill="#1a1a1a" textLength="26.7" lengthAdjust="spacingAndGlyphs">1.5 10</text>
<text x="973" y="298.4" font-size="6.3" fill="#222" textLength="8.7" lengthAdjust="spacingAndGlyphs">-12</text>
</svg>
</body></html>
